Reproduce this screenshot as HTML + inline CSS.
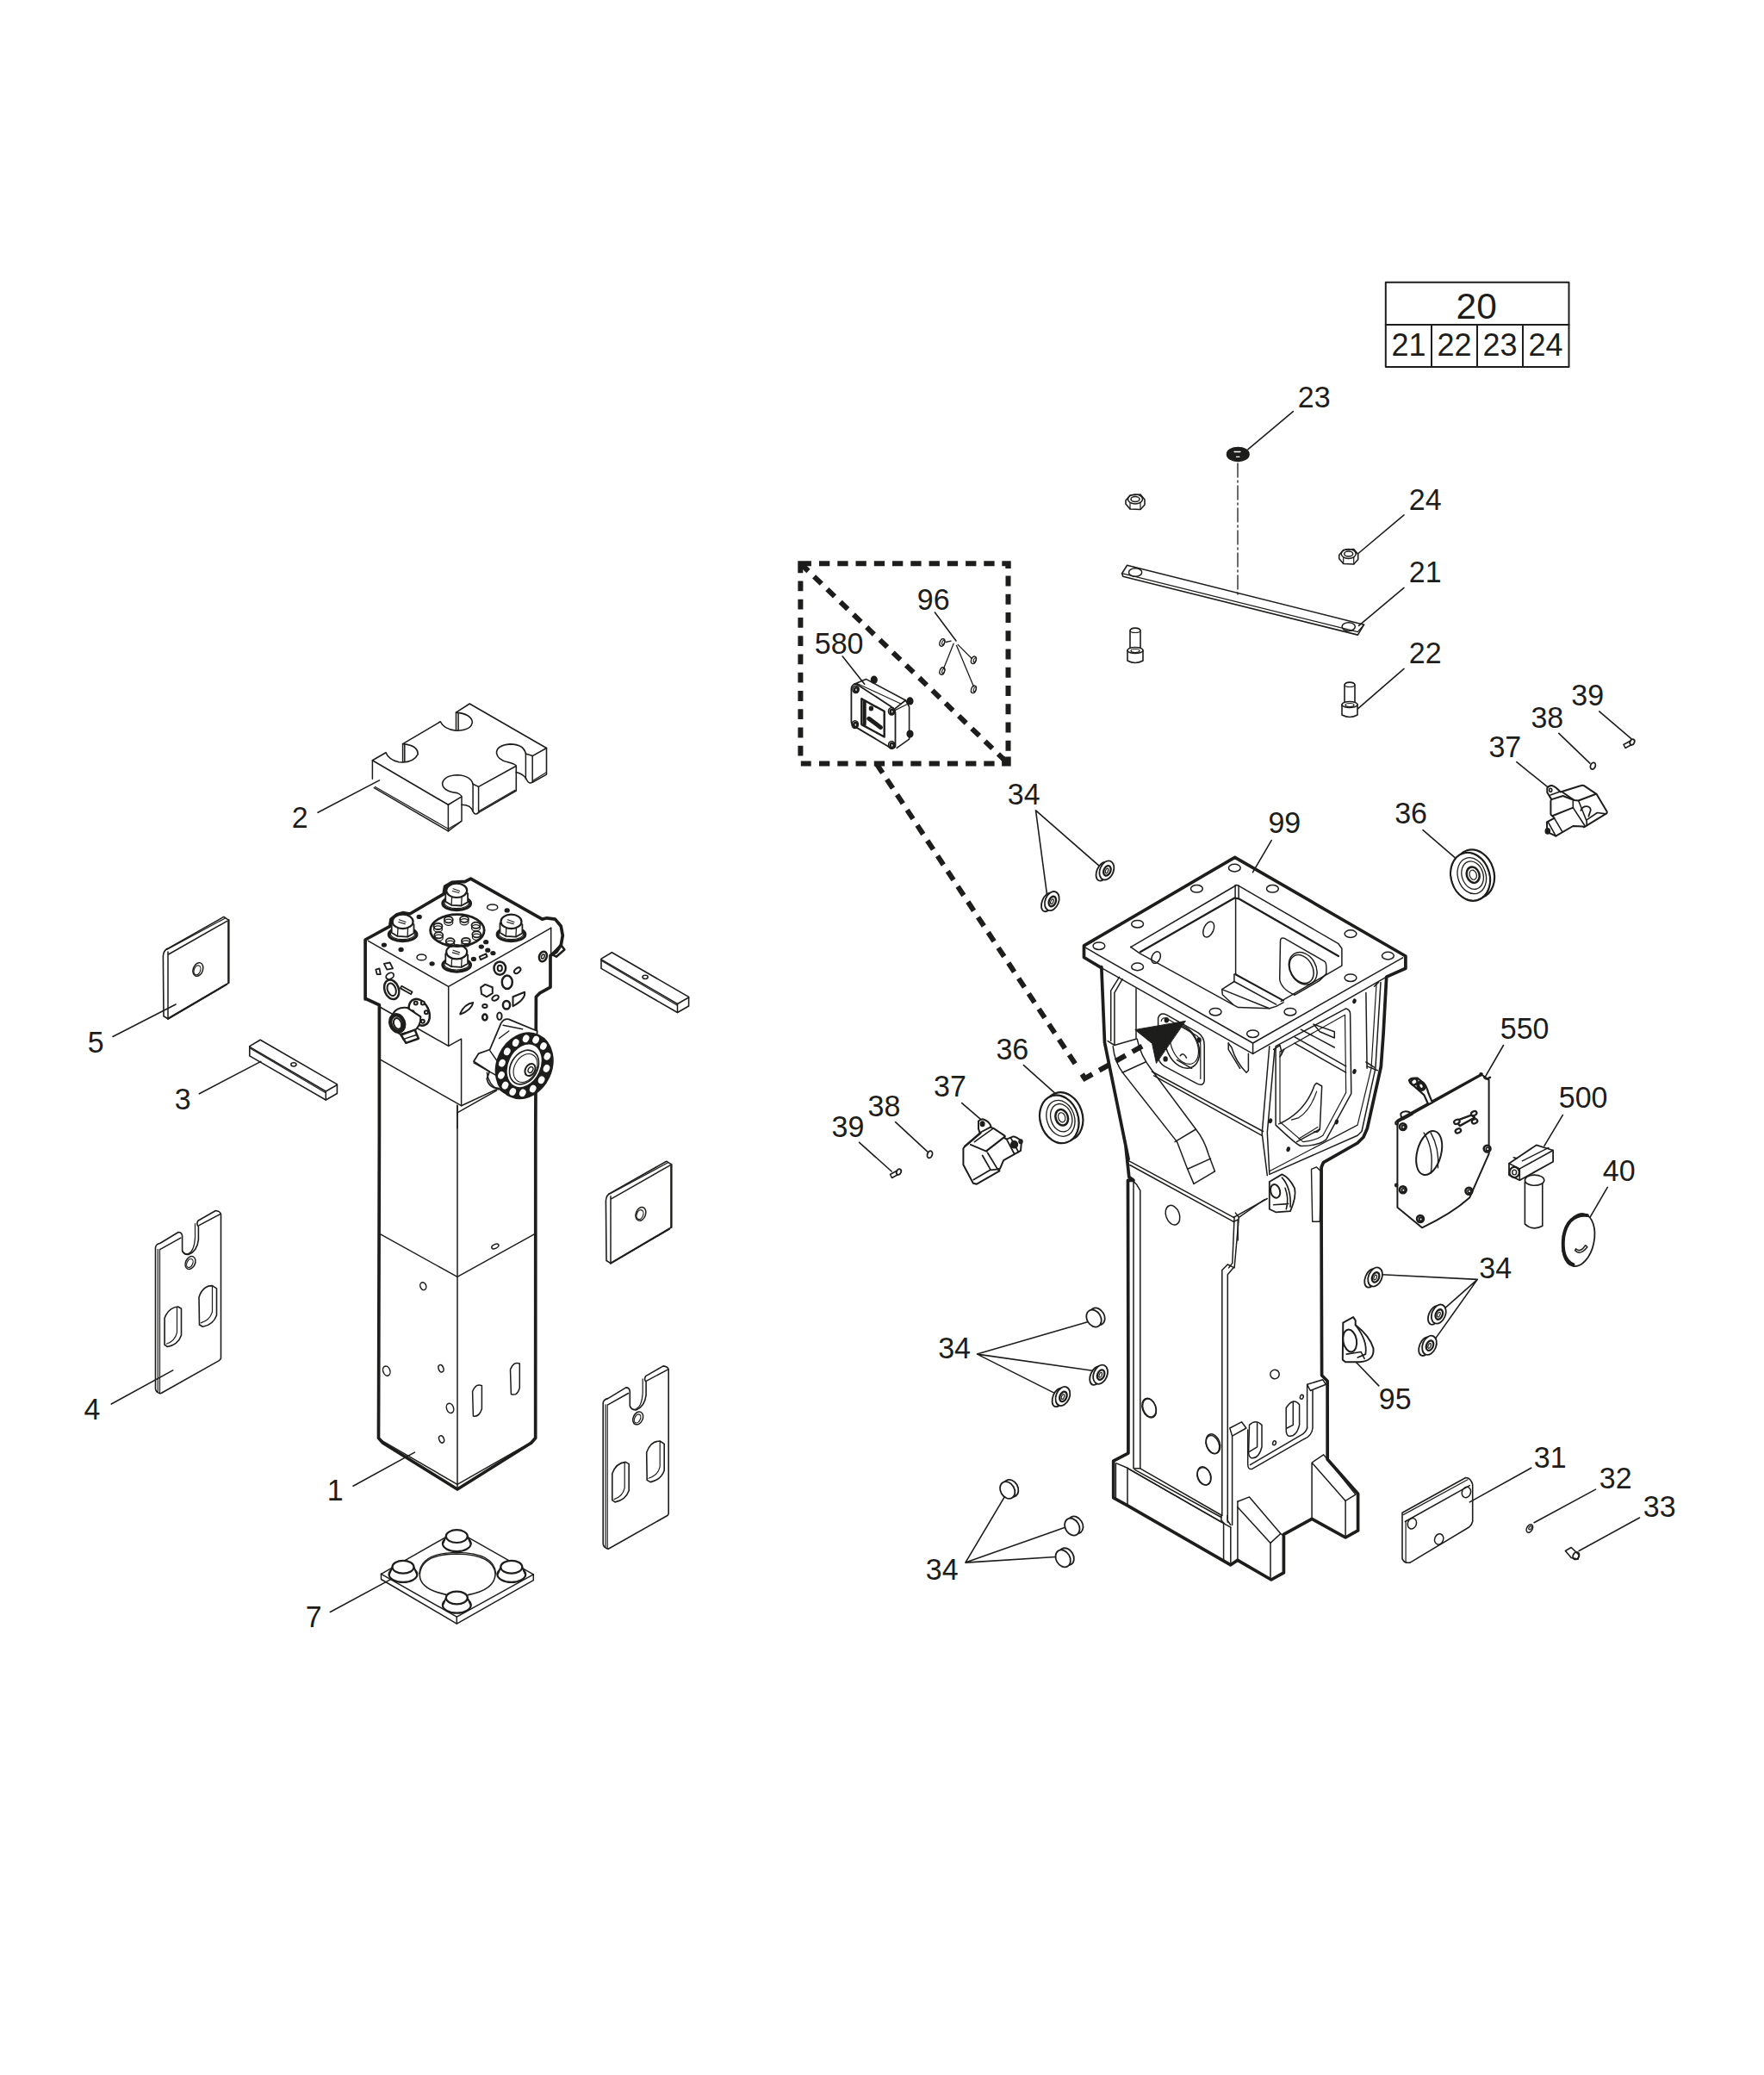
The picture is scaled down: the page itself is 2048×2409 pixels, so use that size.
<!DOCTYPE html>
<html><head><meta charset="utf-8">
<style>
html,body{margin:0;padding:0;background:#fff;width:2048px;height:2409px;overflow:hidden;}
svg{display:block;}
text{font-family:"Liberation Sans",sans-serif;fill:#1d1d1b;}
</style></head><body>
<svg width="2048" height="2409" viewBox="0 0 2048 2409">
<rect x="0" y="0" width="2048" height="2409" fill="#fff"/>
<!-- p_labels.py -->
<g fill="none" stroke="#1d1d1b" stroke-linejoin="round" stroke-linecap="round">
<rect x="1608.8" y="327.7" width="212.7" height="98.3" stroke-width="2"/>
<path d="M1608.8 377H1821.5M1662 377V426M1715 377V426M1768 377V426" stroke-width="2"/>
<g stroke="none"><text x="1690.5" y="370" font-size="42.5">20</text>
<g font-size="36"><text x="1615.5" y="412.5">21</text><text x="1668.5" y="412.5">22</text><text x="1721.5" y="412.5">23</text><text x="1774.5" y="412.5">24</text></g>
<g font-size="34"><text transform="translate(1506.8 472.5) scale(1 1.04)">23</text><text transform="translate(1635.8 591.5) scale(1 1.04)">24</text><text transform="translate(1635.8 676.0) scale(1 1.04)">21</text><text transform="translate(1635.8 770.0) scale(1 1.04)">22</text><text transform="translate(1064.8 708.0) scale(1 1.04)">96</text><text transform="translate(945.8 758.5) scale(1 1.04)">580</text><text transform="translate(1824.3 818.5) scale(1 1.04)">39</text><text transform="translate(1777.4 845.0) scale(1 1.04)">38</text><text transform="translate(1728.4 878.5) scale(1 1.04)">37</text><text transform="translate(1619.2 956.0) scale(1 1.04)">36</text><text transform="translate(1169.8 934.0) scale(1 1.04)">34</text><text transform="translate(1472.4 966.8) scale(1 1.04)">99</text><text transform="translate(1156.4 1229.5) scale(1 1.04)">36</text><text transform="translate(1084.1 1273.0) scale(1 1.04)">37</text><text transform="translate(1007.6 1296.0) scale(1 1.04)">38</text><text transform="translate(965.5 1320.0) scale(1 1.04)">39</text><text transform="translate(1741.8 1205.5) scale(1 1.04)">550</text><text transform="translate(1809.8 1286.0) scale(1 1.04)">500</text><text transform="translate(1860.8 1371.0) scale(1 1.04)">40</text><text transform="translate(1717.3 1483.8) scale(1 1.04)">34</text><text transform="translate(1600.8 1636.0) scale(1 1.04)">95</text><text transform="translate(1780.8 1704.0) scale(1 1.04)">31</text><text transform="translate(1856.8 1727.5) scale(1 1.04)">32</text><text transform="translate(1907.8 1760.5) scale(1 1.04)">33</text><text transform="translate(1089.2 1577.0) scale(1 1.04)">34</text><text transform="translate(1074.8 1833.5) scale(1 1.04)">34</text><text transform="translate(338.8 961.0) scale(1 1.04)">2</text><text transform="translate(101.8 1221.5) scale(1 1.04)">5</text><text transform="translate(202.8 1287.5) scale(1 1.04)">3</text><text transform="translate(97.5 1648.0) scale(1 1.04)">4</text><text transform="translate(379.8 1741.5) scale(1 1.04)">1</text><text transform="translate(354.8 1888.5) scale(1 1.04)">7</text></g></g>
<path d="M1501.4 477.6L1449 521.7M1630 597.9L1576.4 643M1630 682.4L1577.6 726.4M1630 776.4L1576.4 822.9M1085.4 711L1110 744M978.2 762L1003.7 794.3M1856.7 825.9L1893.9 857.6M1809.8 851.4L1845.9 886.1M1760.8 884.7L1798 914.7M1652 963.7L1688.8 995.3M1275.5 1004.7L1202.5 940.8L1215.4 1037.6M1476.2 975.7L1454.5 1012.7M1188.4 1236.6L1224 1268.4M1116.7 1280.6L1139.3 1300.2M1039.6 1302.7L1076.6 1336.9M997.6 1326.3L1035.2 1360M1745.5 1213.5L1724.5 1249.8M1814.3 1294.7L1792.9 1330.4M1866.3 1378.4L1844.9 1415.1M1604.2 1479.7L1715.3 1485.4L1676.8 1519.4M1715.3 1485.4L1665.4 1555.6M1600.8 1608.9L1574.7 1581.7M1777.7 1704.2L1706.3 1743.9M1852.5 1729.1L1781.1 1767.7M1903.5 1762L1833.2 1800.5M1264.4 1534.2L1134.5 1572.1L1268.4 1591.3M1134.5 1572.1L1224.9 1617.6M1169.8 1731.9L1120.9 1814.1L1241.3 1771.6M1120.9 1814.1L1233.5 1807M369.1 943.3L440.5 905.9M131 1203.5L204.1 1166M231.4 1269.8L302.8 1232.4M129.3 1630L200.7 1590.9M410 1725.2L481.4 1686.1M383.4 1871.5L455.9 1832.4" stroke-width="1.6"/>
</g>
<!-- p_dash.py -->
<g fill="none" stroke="#1d1d1b" stroke-linejoin="round" stroke-linecap="round">
<path d="M951 654.3 L963.3 654.3M972.3 654.3 L984.6 654.3M993.5 654.3 L1005.8 654.3M1014.8 654.3 L1027.1 654.3M1036 654.3 L1048.3 654.3M1057.3 654.3 L1069.6 654.3M1078.6 654.3 L1090.9 654.3M1099.8 654.3 L1112.1 654.3M1121.1 654.3 L1133.4 654.3M1142.3 654.3 L1154.6 654.3" stroke-width="6" stroke-linecap="butt"/>
<path d="M951 886.5 L963.3 886.5M972.3 886.5 L984.6 886.5M993.5 886.5 L1005.8 886.5M1014.8 886.5 L1027.1 886.5M1036 886.5 L1048.3 886.5M1057.3 886.5 L1069.6 886.5M1078.6 886.5 L1090.9 886.5M1099.8 886.5 L1112.1 886.5M1121.1 886.5 L1133.4 886.5M1142.3 886.5 L1154.6 886.5" stroke-width="6" stroke-linecap="butt"/>
<path d="M929.8 886.5 L941.7 886.5" stroke-width="6" stroke-linecap="butt"/>
<path d="M929.4 674.4 L929.4 686.3M929.4 695.7 L929.4 707.6M929.4 716.9 L929.4 728.8M929.4 738.2 L929.4 750.1M929.4 759.4 L929.4 771.3M929.4 780.7 L929.4 792.6M929.4 802 L929.4 813.9M929.4 823.2 L929.4 835.1M929.4 844.5 L929.4 856.4M929.4 865.7 L929.4 877.6" stroke-width="6" stroke-linecap="butt"/>
<path d="M1170.5 668.5 L1170.5 680.4M1170.5 689.8 L1170.5 701.7M1170.5 711 L1170.5 722.9M1170.5 732.3 L1170.5 744.2M1170.5 753.5 L1170.5 765.4M1170.5 774.8 L1170.5 786.7M1170.5 796.1 L1170.5 808M1170.5 817.3 L1170.5 829.2M1170.5 838.6 L1170.5 850.5M1170.5 859.8 L1170.5 871.7" stroke-width="6" stroke-linecap="butt"/>
<path d="M926.3 651.3H941.9V657.3H932.3V665.2H926.3Z" fill="#1d1d1b" stroke="none"/>
<path d="M1163.3 651.3H1173.7V660H1167.3V657.3H1163.3Z" fill="#1d1d1b" stroke="none"/>
<path d="M1163.1 883.5H1167.3V878.5H1173.7V889.6H1163.1Z" fill="#1d1d1b" stroke="none"/>
<path d="M945.1 669.4 L953.8 677.7M960.4 684.1 L969 692.4M975.7 698.8 L984.3 707.1M990.9 713.5 L999.6 721.8M1006.2 728.2 L1014.8 736.5M1021.5 742.9 L1030.1 751.2M1036.7 757.6 L1045.4 765.9M1052 772.3 L1060.6 780.6M1067.3 787 L1075.9 795.4M1082.5 801.7 L1091.2 810.1M1097.8 816.4 L1106.4 824.8M1113.1 831.2 L1121.7 839.5M1128.3 845.9 L1137 854.2M1143.6 860.6 L1152.2 868.9M1158.9 875.3 L1167.5 883.6" stroke-width="6" stroke-linecap="butt"/>
<path d="M929.5 654.3 L938.5 663" stroke-width="6.2" stroke-linecap="butt"/>
<path d="M1164 880.3 L1170.5 886.5" stroke-width="6.2" stroke-linecap="butt"/>
<path d="M1017.9 887.2 L1024.7 897.4M1029.7 904.9 L1036.5 915.2M1041.5 922.7 L1048.3 932.9M1053.2 940.4 L1060 950.7M1065 958.2 L1071.8 968.5M1076.7 976 L1083.5 986.2M1088.5 993.7 L1095.3 1004M1100.3 1011.5 L1107 1021.7M1112 1029.2 L1118.8 1039.5M1123.8 1047 L1130.6 1057.3M1135.5 1064.8 L1142.3 1075M1147.3 1082.5 L1154.1 1092.8M1159 1100.3 L1165.8 1110.5M1170.8 1118 L1177.6 1128.3M1182.6 1135.8 L1189.4 1146.1M1194.3 1153.6 L1201.1 1163.8M1206.1 1171.3 L1212.9 1181.6M1217.8 1189.1 L1224.6 1199.3M1229.6 1206.8 L1236.4 1217.1M1241.4 1224.6 L1248.2 1234.9" stroke-width="6" stroke-linecap="butt"/>
<path d="M1256.2 1247 L1259.5 1252" stroke-width="6" stroke-linecap="butt"/>
<path d="M1256.9 1253.5 L1268.2 1247.1M1276.2 1242.6 L1287.5 1236.3M1295.4 1231.8 L1306.8 1225.4M1314.7 1221 L1326 1214.6" stroke-width="6" stroke-linecap="butt"/>
<path d="M1376.1 1185.4L1317.8 1195.5L1337.6 1211.4L1342.4 1234.1Z" fill="#1d1d1b" stroke="#1d1d1b" stroke-width="1"/>
</g>
<!-- p_frame.py -->
<g fill="none" stroke="#1d1d1b" stroke-linejoin="round" stroke-linecap="round">
<path d="M1258.5 1111.5 L1258.5 1097.9 L1433.7 995.3 L1631.9 1110 L1631.9 1124.3 L1609.7 1134.1 L1606.1 1200 L1603.3 1238.5 L1587.4 1310 L1582.9 1320.2 L1576.1 1327 L1536.4 1349.7 L1534.1 1355.3 L1534.1 1420 L1534.6 1596.8 L1541.1 1603.3 L1541.2 1694.3 L1576.6 1734.2 L1576.6 1776.9 L1562.1 1785 L1523.1 1763.3 L1490.4 1781.4 L1490.4 1825.9 L1475.9 1834 L1436.9 1811.3 L1428.8 1816.8 L1420.6 1812.2 L1309 1747.8 L1292.7 1738.8 L1292.7 1696.1 L1309.9 1687.1 L1309.9 1600 L1309.5 1370.3 L1316 1370.3 L1310.8 1366.4 L1306.9 1330 L1310.1 1345.6 L1282.5 1210.3 L1278.8 1122.5 L1278.3 1123.4Z" stroke-width="3.7" fill="none"/>
<path d="M1260.2 1100.2 L1454.6 1211 L1628.6 1111.9" stroke-width="1.5" fill="none"/>
<path d="M1278.3 1123.4 L1454.6 1223.4 L1609.7 1134.1" stroke-width="1.5" fill="none"/>
<path d="M1454.6 1211 L1454.6 1223.4" stroke-width="1.5" fill="none"/>
<path d="M1312.7 1099.7 L1435.7 1027.5 L1438.1 1028.3 L1554 1095.7 L1557.9 1101.3 L1557.9 1121.1 L1487.3 1162.4" stroke-width="1.5" fill="none"/>
<path d="M1434.1 1027.5 L1434.1 1042.5" stroke-width="1.5" fill="none"/>
<path d="M1438.1 1028.3 L1438.1 1042.5" stroke-width="1.5" fill="none"/>
<path d="M1312.7 1099.3 L1322.9 1106.6 L1437.4 1169.6 L1473.7 1170.7 L1481.6 1168.4 L1490 1163.9" stroke-width="1.5" fill="none"/>
<path d="M1323.8 1105.2 L1433.3 1042.5 L1438.1 1043.3 L1554 1110" stroke-width="2.2" fill="none"/>
<path d="M1434.6 1043.3 L1434.6 1130.6" stroke-width="1.5" fill="none"/>
<path d="M1432.9 1131 L1432.9 1139.5 L1418.7 1148.6 L1419.3 1154.8 L1431.7 1166.2" stroke-width="1.5" fill="none"/>
<path d="M1418.7 1148.6 L1473.7 1170.7" stroke-width="1.5" fill="none"/>
<path d="M1432.9 1139.5 L1481.6 1166.2" stroke-width="1.5" fill="none"/>
<path d="M1434 1131 L1490 1161.6" stroke-width="2" fill="none"/>
<ellipse cx="1403.2" cy="1079" rx="5.6" ry="9.5" stroke-width="1.5" fill="none" transform="rotate(25 1403.2 1079)"/>
<ellipse cx="1342.1" cy="1111.6" rx="4.8" ry="7.1" stroke-width="1.5" fill="none" transform="rotate(25 1342.1 1111.6)"/>
<path d="M 1486.5 1092.5 Q 1486.5 1087.8 1491.3 1089.4 L 1538.1 1116.3 Q 1540.5 1117.9 1539.7 1130.6 L 1531.7 1138.6 L 1503.2 1155.2 Q 1487.3 1148.1 1485.7 1137 Z" stroke-width="1.5" fill="none"/>
<ellipse cx="1512.7" cy="1124.3" rx="15.1" ry="19.8" stroke-width="1.5" fill="none" transform="rotate(-30 1512.7 1124.3)"/>
<ellipse cx="1511.1" cy="1125.1" rx="12.7" ry="17.5" stroke-width="1.5" fill="none" transform="rotate(-30 1511.1 1125.1)"/>
<ellipse cx="1433.3" cy="1007.6" rx="6.9" ry="4.3" stroke-width="1.5" fill="none"/>
<ellipse cx="1389.4" cy="1031.8" rx="6.9" ry="4.3" stroke-width="1.5" fill="none"/>
<ellipse cx="1477.4" cy="1031.8" rx="6.9" ry="4.3" stroke-width="1.5" fill="none"/>
<ellipse cx="1320.6" cy="1072.7" rx="6.9" ry="4.3" stroke-width="1.5" fill="none"/>
<ellipse cx="1568" cy="1084.1" rx="6.9" ry="4.3" stroke-width="1.5" fill="none"/>
<ellipse cx="1275.9" cy="1098.2" rx="6.9" ry="4.3" stroke-width="1.5" fill="none"/>
<ellipse cx="1611.4" cy="1109.6" rx="6.9" ry="4.3" stroke-width="1.5" fill="none"/>
<ellipse cx="1320.6" cy="1122.4" rx="6.9" ry="4.3" stroke-width="1.5" fill="none"/>
<ellipse cx="1568" cy="1135.2" rx="6.9" ry="4.3" stroke-width="1.5" fill="none"/>
<ellipse cx="1411.1" cy="1174.7" rx="6.9" ry="4.3" stroke-width="1.5" fill="none"/>
<ellipse cx="1497.9" cy="1174.7" rx="6.9" ry="4.3" stroke-width="1.5" fill="none"/>
<ellipse cx="1454.5" cy="1200.2" rx="6.9" ry="4.3" stroke-width="1.5" fill="none"/>
<path d="M1319 1147.7 L1319 1206.2" stroke-width="1.5" fill="none"/>
<path d="M 1289.7 1208.6 L 1289.7 1150.1 L 1299.5 1134.3" stroke-width="1.5" fill="none"/>
<path d="M 1293.9 1213.5 L 1293.9 1152.6 L 1303.1 1136.7" stroke-width="1.5" fill="none"/>
<path d="M1286.1 1208.6 L1293.9 1213.5 L1319 1206.2" stroke-width="1.5" fill="none"/>
<path d="M 1292.2 1214.7 Q 1293.9 1233 1304.3 1246.4 L 1366.5 1325.6 L 1378.7 1357.3 L 1386 1374.4" stroke-width="1.5" fill="none"/>
<path d="M 1320.2 1206.2 Q 1323.8 1225.7 1338.5 1244 L 1388.4 1311 Q 1398.2 1323.2 1403.1 1340.3 L 1410.4 1359.8" stroke-width="1.5" fill="none"/>
<path d="M1303.1 1245.2 L1329.9 1233" stroke-width="1.5" fill="none"/>
<path d="M1364.1 1325.6 L1388.4 1311" stroke-width="1.5" fill="none"/>
<path d="M1378.7 1357.3 L1405.5 1345.1" stroke-width="1.5" fill="none"/>
<path d="M1386 1374.4 L1410.4 1359.8" stroke-width="1.5" fill="none"/>
<path d="M1337.3 1244 L1466.5 1313.5" stroke-width="1.5" fill="none"/>
<path d="M1339.7 1248.9 L1465.2 1318.3" stroke-width="1.5" fill="none"/>
<path d="M1310.4 1347.6 L1432.3 1413.4" stroke-width="1.5" fill="none"/>
<path d="M1311.7 1352.5 L1432.3 1418.3" stroke-width="1.5" fill="none"/>
<path d="M1432.3 1413.4 L1471.3 1391.5" stroke-width="1.5" fill="none"/>
<path d="M1432.3 1418.3 L1437.2 1415.8 L1437.2 1440" stroke-width="1.5" fill="none"/>
<path d="M 1344.6 1181.8 Q 1347 1174.5 1354.3 1178.2 L 1390.9 1198.9 Q 1398.2 1203.8 1398.2 1213.5 L 1398.2 1255 Q 1397 1262.3 1388.4 1257.4 L 1351.9 1237.9 Q 1344.6 1233 1344.6 1225.7 Z" stroke-width="1.5" fill="none"/>
<path d="M 1348.2 1185.5 Q 1349.4 1180.6 1354.3 1182.3 L 1389.7 1202.5 Q 1393.8 1206.2 1393.8 1213.5 L 1393.8 1252.5" stroke-width="1.2" fill="none"/>
<ellipse cx="1372.6" cy="1214.7" rx="18.3" ry="26.8" stroke-width="1.5" fill="none" transform="rotate(-25 1372.6 1214.7)"/>
<ellipse cx="1375" cy="1213.5" rx="14.6" ry="23.2" stroke-width="1.2" fill="none" transform="rotate(-25 1375 1213.5)"/>
<path d="M 1366.5 1230.6 L 1383.6 1240.3 M 1370.2 1225.7 Q 1373.8 1220.8 1377.5 1228.1" stroke-width="1.5" fill="none"/>
<ellipse cx="1354.3" cy="1184.3" rx="1.7" ry="2.2" stroke-width="2" fill="#1d1d1b"/>
<ellipse cx="1392.1" cy="1207.4" rx="1.7" ry="2.2" stroke-width="2" fill="#1d1d1b"/>
<ellipse cx="1353.1" cy="1229.4" rx="1.7" ry="2.2" stroke-width="2" fill="#1d1d1b"/>
<path d="M 1426.2 1211.1 L 1429.9 1216 Q 1434.8 1233 1447 1245.2 L 1449.4 1242.8 L 1449.4 1223.3" stroke-width="1.5" fill="none"/>
<path d="M1426.2 1211.1 L1426.2 1218.4 L1439.6 1240.3" stroke-width="1.5" fill="none"/>
<path d="M1473.8 1214.7 L1465.2 1315.9 L1471.3 1364.6" stroke-width="1.5" fill="none"/>
<path d="M1479.9 1218.4 L1471.3 1314.7 L1473.8 1362.2" stroke-width="1.5" fill="none"/>
<path d="M 1481.1 1214.7 L 1562.7 1170.9 Q 1567.6 1172.1 1567.6 1177 L 1568.8 1269.6 L 1539.6 1323.2 Q 1529.8 1330.5 1510.3 1330.5 Q 1505.5 1329.3 1481.1 1306.1 L 1481.1 1218.4 Z" stroke-width="1.5" fill="none"/>
<path d="M 1486 1220.8 L 1561.5 1178.2 L 1562.7 1268.4 L 1535.9 1318.3 Q 1527.4 1324.4 1512.8 1325.6 L 1486 1302.5 Z" stroke-width="1.2" fill="none"/>
<path d="M1503 1203.8 L1562.7 1237.9" stroke-width="1.5" fill="none"/>
<path d="M1503 1211.1 L1562.7 1245.2" stroke-width="1.5" fill="none"/>
<path d="M1510.3 1195.2 L1549.3 1216" stroke-width="1.5" fill="none"/>
<path d="M 1525 1189.1 L 1549.3 1197.7 L 1549.3 1205 L 1532.3 1197.7 Z" stroke-width="1.5" fill="none"/>
<path d="M 1484.7 1304.9 Q 1515.2 1291.5 1526.2 1259.8 L 1528.6 1257.4 L 1534.7 1261 L 1532.3 1311 Q 1529.8 1315.9 1526.2 1313.5" stroke-width="1.5" fill="none"/>
<path d="M 1499.4 1300.1 L 1507.9 1297.6 Q 1521.3 1289.1 1528.6 1267.1" stroke-width="1.2" fill="none"/>
<path d="M1505.5 1325.6 L1532.3 1311" stroke-width="1.5" fill="none"/>
<path d="M1507.9 1322 L1529.8 1308.6" stroke-width="1.2" fill="none"/>
<path d="M1585.9 1152.6 L1587.1 1240.3" stroke-width="1.5" fill="none"/>
<path d="M1595.6 1145.3 L1600.5 1140.4" stroke-width="1.5" fill="none"/>
<path d="M 1603 1140.4 L 1596.9 1240.3 L 1581 1313.5 L 1576.1 1318.3 L 1473.8 1363.4" stroke-width="1.5" fill="none"/>
<path d="M 1598.1 1141.6 L 1592 1240.3 L 1576.1 1306.1 L 1473.8 1359.8" stroke-width="1.2" fill="none"/>
<path d="M1587.1 1237.9 L1599.3 1242.8" stroke-width="1.5" fill="none"/>
<path d="M1585.9 1233 L1595.6 1239.1" stroke-width="1.5" fill="none"/>
<path d="M1478.6 1218.4 L1486 1213.5 L1488.4 1223.3 L1486 1226.9 L1490.8 1218.4" stroke-width="1.5" fill="none"/>
<ellipse cx="1572.5" cy="1162.3" rx="1.2" ry="2" stroke-width="2" fill="#1d1d1b" transform="rotate(15 1572.5 1162.3)"/>
<ellipse cx="1572.5" cy="1244" rx="1.2" ry="2" stroke-width="2" fill="#1d1d1b" transform="rotate(15 1572.5 1244)"/>
<ellipse cx="1475" cy="1301.3" rx="1.2" ry="2" stroke-width="2" fill="#1d1d1b" transform="rotate(15 1475 1301.3)"/>
<ellipse cx="1551.8" cy="1302.5" rx="1.2" ry="2" stroke-width="2" fill="#1d1d1b" transform="rotate(15 1551.8 1302.5)"/>
<ellipse cx="1495.7" cy="1334.2" rx="1.2" ry="2" stroke-width="2" fill="#1d1d1b" transform="rotate(15 1495.7 1334.2)"/>
<path d="M 1522.5 1357.3 L 1528.6 1354.9 L 1533.5 1359.8 L 1532.3 1418.3 L 1523.7 1418.3 Z" stroke-width="1.4" fill="none"/>
<path d="M 1473.8 1372 L 1473.8 1403.7 L 1481.1 1407.3 L 1498.1 1406.1 Q 1505.5 1389 1503 1379.3 Q 1496.9 1367.1 1488.4 1363.4 Z" stroke-width="1.8" fill="none"/>
<ellipse cx="1480.6" cy="1382.9" rx="5.4" ry="8" stroke-width="2" fill="none" transform="rotate(-15 1480.6 1382.9)"/>
<path d="M 1488.4 1367.1 Q 1499.4 1379.3 1498.1 1401.2 M 1492 1379.3 Q 1496.9 1391.5 1493.3 1403.7 M 1478.6 1398.8 L 1495.7 1397.6" stroke-width="1.6" fill="none"/>
<path d="M1316 1371.6 L1319.9 1375.6 L1323.8 1382.1 L1323.8 1704.8 L1316 1704.8 L1316 1371.6" stroke-width="1.5" fill="none"/>
<path d="M1309.5 1704.8 L1418.8 1767.3" stroke-width="1.5" fill="none"/>
<path d="M1323.8 1704.8 L1418.8 1759.5" stroke-width="1.5" fill="none"/>
<path d="M1418.8 1759.5 L1418.8 1474.5 L1425.3 1468 L1433.1 1471.9 L1438.3 1413.3 L1434.4 1408.1" stroke-width="1.5" fill="none"/>
<path d="M1425.3 1767.3 L1425.3 1479.7 L1431.8 1471.9" stroke-width="1.5" fill="none"/>
<path d="M1433.1 1412.5 L1430.8 1466.4 L1426.6 1471.9" stroke-width="1.5" fill="none"/>
<path d="M1438.3 1413.3 L1468.2 1392.5" stroke-width="1.5" fill="none"/>
<ellipse cx="1361.5" cy="1410.7" rx="7.8" ry="11.7" stroke-width="1.5" fill="none" transform="rotate(-20 1361.5 1410.7)"/>
<ellipse cx="1334.2" cy="1634.6" rx="7.8" ry="11.7" stroke-width="1.5" fill="none" transform="rotate(-20 1334.2 1634.6)"/>
<ellipse cx="1408.4" cy="1676.2" rx="7.8" ry="11.7" stroke-width="1.5" fill="none" transform="rotate(-20 1408.4 1676.2)"/>
<ellipse cx="1398" cy="1713.9" rx="7.8" ry="10.4" stroke-width="1.5" fill="none" transform="rotate(-20 1398 1713.9)"/>
<ellipse cx="1480" cy="1595.5" rx="5.2" ry="5.2" stroke-width="1.5" fill="none" transform="rotate(-20 1480 1595.5)"/>
<path d="M1296.3 1698.9 L1309 1704.3 L1420.6 1768.7 L1428.8 1773.2" stroke-width="1.5" fill="none"/>
<path d="M1317.2 1706.1 L1417.9 1761.5" stroke-width="1.5" fill="none"/>
<path d="M1295.4 1698.9 L1295.4 1739.7" stroke-width="1.5" fill="none"/>
<path d="M1309 1704.3 L1309 1747.8" stroke-width="1.5" fill="none"/>
<path d="M1417.9 1759.6 L1417.9 1765.1 L1421.5 1768.7" stroke-width="1.5" fill="none"/>
<path d="M1425.1 1759.6 L1425.1 1765.1 L1428.8 1770.5" stroke-width="1.5" fill="none"/>
<path d="M1420.6 1768.7 L1420.6 1812.2" stroke-width="1.5" fill="none"/>
<path d="M1428.8 1773.2 L1428.8 1814.1" stroke-width="1.5" fill="none"/>
<path d="M1436.9 1743.3 L1450.5 1737.9 L1486.8 1780.5 L1475 1791.4 L1436.9 1749.7" stroke-width="1.5" fill="none"/>
<path d="M1475 1791.4 L1475 1834" stroke-width="1.5" fill="none"/>
<path d="M1436.9 1743.3 L1436.9 1811.3" stroke-width="1.5" fill="none"/>
<path d="M1486.8 1780.5 L1490.4 1783.2" stroke-width="1.5" fill="none"/>
<path d="M1523.1 1698 L1536.7 1688.9 L1573.9 1735.1 L1562.1 1742.4 L1523.1 1698 L1523.1 1763.3" stroke-width="1.5" fill="none"/>
<path d="M1562.1 1742.4 L1562.1 1785" stroke-width="1.5" fill="none"/>
<path d="M1427.8 1658 L1441.5 1650.8 L1446.9 1658 L1430.6 1667.1 L1427.8 1658" stroke-width="1.5" fill="none"/>
<path d="M1430.6 1667.1 L1430.6 1770.5" stroke-width="1.5" fill="none"/>
<path d="M1517.6 1607.3 L1535.8 1601.8 L1539.4 1607.3 L1521.3 1614.5 L1517.6 1607.3 L1517.6 1658" stroke-width="1.5" fill="none"/>
<path d="M 1524 1614.5 L 1524 1658 Q 1523.1 1667.1 1514 1670.7 L 1454.1 1705.2 Q 1448.7 1707 1448.7 1699.8 L 1448.7 1659.9" stroke-width="1.5" fill="none"/>
<path d="M 1517.6 1658 Q 1515.8 1663.5 1510.4 1666.2 L 1451.4 1700.7" stroke-width="1.5" fill="none"/>
<path d="M 1450.5 1654.4 Q 1457.8 1647.2 1465 1654.4 L 1465 1679.8 Q 1461.4 1694.3 1452.3 1692.5 Q 1449.6 1690.7 1449.6 1685.3 Z" stroke-width="1.5" fill="none"/>
<path d="M 1493.2 1634.5 Q 1501.3 1621.8 1508.6 1630.8 L 1508.6 1654.4 Q 1504.9 1668.9 1495.9 1667.1 Q 1493.2 1665.3 1493.2 1659.9 Z" stroke-width="1.5" fill="none"/>
<path d="M1459.6 1652.6 L1459.6 1679.8 L1450.5 1685.3" stroke-width="1.5" fill="none"/>
<path d="M1501.3 1627.2 L1501.3 1654.4 L1494.1 1658" stroke-width="1.5" fill="none"/>
<ellipse cx="1334.4" cy="1634.5" rx="7.3" ry="10.9" stroke-width="1.5" fill="none" transform="rotate(-20 1334.4 1634.5)"/>
<ellipse cx="1407.9" cy="1677.1" rx="7.3" ry="10.9" stroke-width="1.5" fill="none" transform="rotate(-20 1407.9 1677.1)"/>
<ellipse cx="1397.9" cy="1713.4" rx="7.3" ry="10.9" stroke-width="1.5" fill="none" transform="rotate(-20 1397.9 1713.4)"/>
<ellipse cx="1479.5" cy="1675.3" rx="1.8" ry="2.5" stroke-width="1.5" fill="none" transform="rotate(20 1479.5 1675.3)"/>
<ellipse cx="1511.3" cy="1621.8" rx="1.8" ry="2.5" stroke-width="1.5" fill="none" transform="rotate(20 1511.3 1621.8)"/>
</g>
<!-- p_column.py -->
<g fill="none" stroke="#1d1d1b" stroke-linejoin="round" stroke-linecap="round">
<path d="M424.1 1159.9 L424.1 1091 L452.7 1075.3 L454 1067.1 L460.8 1061.7 L467.6 1059.7 L475.8 1061 L515.2 1037.9 L516.6 1029 L524.8 1024.3 L535.6 1023.6 L539.7 1023.6 L546.5 1020.2 L629.5 1067.1 L635 1065.8 L644.5 1067.1 L651.3 1075.3 L653.3 1086.2 L651.3 1097.1 L645.9 1105.2 L639 1109.3 L639 1146.1 L626.8 1152.9 L622.4 1157.2 L621.8 1310 L621.7 1669.5 L616.6 1675.2 L531 1729 L444.6 1675.2 L439.5 1669.5 L440.4 1310 L440.4 1166.7 L424.1 1159.3 L424.1 1147.7Z" stroke-width="3.7" fill="none"/>
<path d="M427.5 1092.3 L520.7 1145.4 L639.7 1077.3" stroke-width="1.5" fill="none"/>
<path d="M639.7 1077.3 L639.7 1109.3" stroke-width="1.5" fill="none"/>
<path d="M520.7 1146.3 L520.7 1214.4 L535.6 1206.2 L535.6 1283.7" stroke-width="1.5" fill="none"/>
<path d="M441.8 1169.5 L520.7 1214.4" stroke-width="1.5" fill="none"/>
<path d="M442.4 1230.7 L535.6 1283.7 L576.5 1264.7" stroke-width="1.5" fill="none"/>
<path d="M530.9 1283.1 L530.9 1310" stroke-width="1.5" fill="none"/>
<path d="M530.9 1291.9 L576.5 1266.1" stroke-width="1.5" fill="none"/>
<path d="M531 1284 L531 1729" stroke-width="1.5" fill="none"/>
<path d="M441.7 1432.8 L531 1482.4 L620.3 1432.8" stroke-width="1.5" fill="none"/>
<path d="M443.1 1672.3 L531 1723.4 L620.3 1672.3" stroke-width="1.5" fill="none"/>
<ellipse cx="491.3" cy="1493.2" rx="3.4" ry="4.5" stroke-width="1.5" fill="none" transform="rotate(-20 491.3 1493.2)"/>
<ellipse cx="448.8" cy="1591.6" rx="4" ry="5.7" stroke-width="1.5" fill="none" transform="rotate(-20 448.8 1591.6)"/>
<ellipse cx="512" cy="1588.7" rx="2.8" ry="4.3" stroke-width="1.5" fill="none" transform="rotate(-20 512 1588.7)"/>
<ellipse cx="522.5" cy="1634.9" rx="4" ry="5.7" stroke-width="1.5" fill="none" transform="rotate(-20 522.5 1634.9)"/>
<ellipse cx="512.6" cy="1670.9" rx="2.8" ry="4.3" stroke-width="1.5" fill="none" transform="rotate(-20 512.6 1670.9)"/>
<path d="M 548.6 1615.6 Q 552.3 1605.7 559.4 1608.6 L 559.4 1635.5 Q 556.5 1645.4 549.4 1644 Z" stroke-width="1.5" fill="none"/>
<path d="M 592.5 1590.1 Q 596.2 1580.2 603.3 1583 L 603.3 1611.4 Q 600.5 1621.3 593.4 1618.5 Z" stroke-width="1.5" fill="none"/>
<ellipse cx="574.9" cy="1447" rx="4.3" ry="2.3" stroke-width="1.5" fill="none" transform="rotate(-25 574.9 1447)"/>
<ellipse cx="530.2" cy="1048.8" rx="16.3" ry="7.9" stroke-width="3.2" fill="none"/>
<ellipse cx="530.2" cy="1048.1" rx="14.3" ry="6.5" stroke-width="1.2" fill="none"/>
<path d="M517.3 1035.9 L524.8 1032.4 L536.3 1033.1 L543.1 1037.2 L543.1 1047.4 L535.6 1051.5 L524.1 1050.8 L517.3 1046.7Z" stroke-width="1.8" fill="#fff"/>
<path d="M524.8 1037.9 L524.1 1050.8" stroke-width="1.3" fill="none"/>
<path d="M536.3 1038.6 L535.6 1051.5" stroke-width="1.3" fill="none"/>
<ellipse cx="530.2" cy="1033.8" rx="12" ry="8.2" stroke-width="2.2" fill="#fff"/>
<path d="M526.1 1031.8 L533.6 1034.5" stroke-width="1.2" fill="none"/>
<path d="M525.4 1034.5 L532.9 1036.5" stroke-width="1.2" fill="none"/>
<ellipse cx="467.6" cy="1084.8" rx="16.3" ry="7.9" stroke-width="3.2" fill="none"/>
<ellipse cx="467.6" cy="1084.1" rx="14.3" ry="6.5" stroke-width="1.2" fill="none"/>
<path d="M454.7 1071.9 L462.2 1068.5 L473.7 1069.2 L480.5 1073.3 L480.5 1083.5 L473.1 1087.6 L461.5 1086.9 L454.7 1082.8Z" stroke-width="1.8" fill="#fff"/>
<path d="M462.2 1073.9 L461.5 1086.9" stroke-width="1.3" fill="none"/>
<path d="M473.7 1074.6 L473.1 1087.6" stroke-width="1.3" fill="none"/>
<ellipse cx="467.6" cy="1069.9" rx="12" ry="8.2" stroke-width="2.2" fill="#fff"/>
<path d="M463.5 1067.8 L471 1070.5" stroke-width="1.2" fill="none"/>
<path d="M462.9 1070.5 L470.3 1072.6" stroke-width="1.2" fill="none"/>
<ellipse cx="593.5" cy="1084.8" rx="16.3" ry="7.9" stroke-width="3.2" fill="none"/>
<ellipse cx="593.5" cy="1084.1" rx="14.3" ry="6.5" stroke-width="1.2" fill="none"/>
<path d="M580.5 1071.9 L588 1068.5 L599.6 1069.2 L606.4 1073.3 L606.4 1083.5 L598.9 1087.6 L587.3 1086.9 L580.5 1082.8Z" stroke-width="1.8" fill="#fff"/>
<path d="M588 1073.9 L587.3 1086.9" stroke-width="1.3" fill="none"/>
<path d="M599.6 1074.6 L598.9 1087.6" stroke-width="1.3" fill="none"/>
<ellipse cx="593.5" cy="1069.9" rx="12" ry="8.2" stroke-width="2.2" fill="#fff"/>
<path d="M589.4 1067.8 L596.9 1070.5" stroke-width="1.2" fill="none"/>
<path d="M588.7 1070.5 L596.2 1072.6" stroke-width="1.2" fill="none"/>
<ellipse cx="530.2" cy="1120.2" rx="16.3" ry="7.9" stroke-width="3.2" fill="none"/>
<ellipse cx="530.2" cy="1119.5" rx="14.3" ry="6.5" stroke-width="1.2" fill="none"/>
<path d="M517.3 1107.3 L524.8 1103.9 L536.3 1104.6 L543.1 1108.6 L543.1 1118.8 L535.6 1122.9 L524.1 1122.2 L517.3 1118.2Z" stroke-width="1.8" fill="#fff"/>
<path d="M524.8 1109.3 L524.1 1122.2" stroke-width="1.3" fill="none"/>
<path d="M536.3 1110 L535.6 1122.9" stroke-width="1.3" fill="none"/>
<ellipse cx="530.2" cy="1105.2" rx="12" ry="8.2" stroke-width="2.2" fill="#fff"/>
<path d="M526.1 1103.2 L533.6 1105.9" stroke-width="1.2" fill="none"/>
<path d="M525.4 1105.9 L532.9 1108" stroke-width="1.2" fill="none"/>
<ellipse cx="530.9" cy="1080.1" rx="31.3" ry="18.4" stroke-width="2.8" fill="none"/>
<ellipse cx="553.3" cy="1084.7" rx="5" ry="3.6" stroke-width="1.8" fill="#fff"/>
<ellipse cx="553.3" cy="1087.7" rx="5" ry="3.6" stroke-width="1.2" fill="none"/>
<ellipse cx="540.9" cy="1092.4" rx="5" ry="3.6" stroke-width="1.8" fill="#fff"/>
<ellipse cx="540.9" cy="1095.4" rx="5" ry="3.6" stroke-width="1.2" fill="none"/>
<ellipse cx="522.7" cy="1092.8" rx="5" ry="3.6" stroke-width="1.8" fill="#fff"/>
<ellipse cx="522.7" cy="1095.8" rx="5" ry="3.6" stroke-width="1.2" fill="none"/>
<ellipse cx="509.3" cy="1085.8" rx="5" ry="3.6" stroke-width="1.8" fill="#fff"/>
<ellipse cx="509.3" cy="1088.8" rx="5" ry="3.6" stroke-width="1.2" fill="none"/>
<ellipse cx="508.5" cy="1075.4" rx="5" ry="3.6" stroke-width="1.8" fill="#fff"/>
<ellipse cx="508.5" cy="1078.4" rx="5" ry="3.6" stroke-width="1.2" fill="none"/>
<ellipse cx="520.8" cy="1067.7" rx="5" ry="3.6" stroke-width="1.8" fill="#fff"/>
<ellipse cx="520.8" cy="1070.7" rx="5" ry="3.6" stroke-width="1.2" fill="none"/>
<ellipse cx="539" cy="1067.3" rx="5" ry="3.6" stroke-width="1.8" fill="#fff"/>
<ellipse cx="539" cy="1070.3" rx="5" ry="3.6" stroke-width="1.2" fill="none"/>
<ellipse cx="552.5" cy="1074.3" rx="5" ry="3.6" stroke-width="1.8" fill="#fff"/>
<ellipse cx="552.5" cy="1077.3" rx="5" ry="3.6" stroke-width="1.2" fill="none"/>
<ellipse cx="571.7" cy="1053.3" rx="6.1" ry="3.4" stroke-width="1.5" fill="none"/>
<ellipse cx="489.4" cy="1111.4" rx="5.4" ry="3.4" stroke-width="1.5" fill="none"/>
<ellipse cx="486.7" cy="1064.4" rx="1.9" ry="1.4" stroke-width="2.5" fill="#1d1d1b"/>
<ellipse cx="445.9" cy="1097.1" rx="1.9" ry="1.4" stroke-width="2.5" fill="#1d1d1b"/>
<ellipse cx="465.6" cy="1102.5" rx="1.9" ry="1.4" stroke-width="2.5" fill="#1d1d1b"/>
<ellipse cx="501.6" cy="1118.8" rx="1.9" ry="1.4" stroke-width="2.5" fill="#1d1d1b"/>
<ellipse cx="588.7" cy="1056.9" rx="1.9" ry="1.4" stroke-width="2.5" fill="#1d1d1b"/>
<ellipse cx="549.9" cy="1113.4" rx="1.9" ry="1.4" stroke-width="2.5" fill="#1d1d1b"/>
<ellipse cx="558.8" cy="1099.1" rx="1.9" ry="1.4" stroke-width="2.5" fill="#1d1d1b"/>
<ellipse cx="566.3" cy="1103.2" rx="1.9" ry="1.4" stroke-width="2.5" fill="#1d1d1b"/>
<ellipse cx="572.4" cy="1106.6" rx="1.9" ry="1.4" stroke-width="2.5" fill="#1d1d1b"/>
<ellipse cx="564.2" cy="1093.7" rx="1.9" ry="1.4" stroke-width="2.5" fill="#1d1d1b"/>
<path d="M 556.7 1110.7 L 564.2 1107.3 L 565.6 1110.7 L 558.1 1114.1 Z" stroke-width="2" fill="none"/>
<path d="M 640.4 1108 L 651.3 1097.1 L 655.4 1102.5 L 645.9 1110.7 Z" stroke-width="2.5" fill="none"/>
<ellipse cx="454.7" cy="1148.8" rx="8.2" ry="11.6" stroke-width="2.5" fill="none" transform="rotate(-20 454.7 1148.8)"/>
<ellipse cx="454.7" cy="1148.8" rx="4.8" ry="7.5" stroke-width="2" fill="none" transform="rotate(-20 454.7 1148.8)"/>
<path d="M 464.9 1147.4 L 477.1 1154.2 L 478.5 1151.5 L 466.3 1144.7 Z" stroke-width="1.8" fill="none"/>
<path d="M 436.3 1125.6 L 440.4 1124.3 L 441.8 1131.1 L 437.7 1131.1 Z" stroke-width="1.8" fill="none"/>
<path d="M 445.9 1118.8 L 452.7 1117.5 L 456.1 1124.3 L 449.3 1125.6 Z" stroke-width="1.8" fill="none"/>
<ellipse cx="452.7" cy="1133.1" rx="4.8" ry="3.4" stroke-width="1.8" fill="none" transform="rotate(-30 452.7 1133.1)"/>
<ellipse cx="486.7" cy="1175.2" rx="11.1" ry="16.2" stroke-width="2.5" fill="#fff" transform="rotate(-25 486.7 1175.2)"/>
<ellipse cx="494.9" cy="1175.2" rx="2" ry="2" stroke-width="2" fill="#fff"/>
<ellipse cx="490.8" cy="1185.8" rx="2" ry="2" stroke-width="2" fill="#fff"/>
<ellipse cx="482.7" cy="1185.8" rx="2" ry="2" stroke-width="2" fill="#fff"/>
<ellipse cx="478.6" cy="1175.2" rx="2" ry="2" stroke-width="2" fill="#fff"/>
<ellipse cx="482.7" cy="1164.6" rx="2" ry="2" stroke-width="2" fill="#fff"/>
<ellipse cx="490.8" cy="1164.6" rx="2" ry="2" stroke-width="2" fill="#fff"/>
<path d="M 456.1 1176.9 Q 461.2 1168.4 473.1 1170.1 L 488.4 1180.3 Q 488.4 1192.2 479.9 1197.3 L 464.6 1200.7 Q 454.4 1195.6 456.1 1176.9 Z" stroke-width="2" fill="#fff"/>
<ellipse cx="461.2" cy="1187.9" rx="7.7" ry="9.9" stroke-width="4.5" fill="#fff" transform="rotate(-20 461.2 1187.9)"/>
<ellipse cx="461.6" cy="1188.4" rx="4.4" ry="6.5" stroke-width="2" fill="none" transform="rotate(-20 461.6 1188.4)"/>
<path d="M 465.5 1201.5 L 481.6 1195.6 L 485.9 1205.8 L 471.4 1210.9 Z" stroke-width="2.5" fill="#fff"/>
<path d="M 468 1206.6 L 483.3 1201.5" stroke-width="1.5" fill="none"/>
<ellipse cx="580.3" cy="1124.1" rx="6.8" ry="7.7" stroke-width="2.5" fill="none"/>
<ellipse cx="580.3" cy="1124.1" rx="2.6" ry="3.4" stroke-width="2" fill="none"/>
<ellipse cx="588.8" cy="1140.3" rx="6" ry="7.7" stroke-width="2.5" fill="none"/>
<path d="M 558.2 1146.3 L 563.3 1142.9 L 571.8 1146.3 L 571.8 1153.1 L 565 1157.3 L 559 1153.9 Z" stroke-width="2" fill="none"/>
<ellipse cx="562.9" cy="1168.1" rx="2.7" ry="2" stroke-width="2" fill="none"/>
<ellipse cx="562.9" cy="1181" rx="2.7" ry="3.4" stroke-width="2.5" fill="none"/>
<ellipse cx="579.9" cy="1179.7" rx="2.7" ry="4.1" stroke-width="2" fill="none"/>
<path d="M 534.3 1176.3 Q 539.7 1165.4 549.3 1164 Q 547.9 1172.2 534.3 1177.6 Z" stroke-width="1.8" fill="none"/>
<path d="M 595.5 1157.2 L 609.1 1151.8 Q 610.5 1159.9 595.5 1168.1 Z" stroke-width="2" fill="none"/>
<ellipse cx="588" cy="1166.7" rx="4.1" ry="4.8" stroke-width="2.5" fill="none"/>
<ellipse cx="575.1" cy="1158.6" rx="4.1" ry="2.7" stroke-width="2" fill="none" transform="rotate(-30 575.1 1158.6)"/>
<ellipse cx="630.4" cy="1110.5" rx="4.3" ry="6" stroke-width="2.5" fill="none" transform="rotate(20 630.4 1110.5)"/>
<ellipse cx="630.4" cy="1110.5" rx="1.7" ry="2.6" stroke-width="1.5" fill="none" transform="rotate(20 630.4 1110.5)"/>
<ellipse cx="600.7" cy="1126.7" rx="4.3" ry="2.6" stroke-width="2" fill="none" transform="rotate(-40 600.7 1126.7)"/>
<path d="M 550 1232.2 L 555.7 1223.1 L 568.7 1218.5 L 581.7 1187.9 Q 585.1 1182.3 590.8 1183.4 L 623.7 1197 L 618 1265 L 601 1273.5 Q 589.7 1273 578.3 1263.3 L 573.8 1262.8 Q 567 1260.5 565.3 1252.6 L 568.1 1244.1 Z" stroke-width="1.8" fill="#fff"/>
<path d="M 584 1190.2 L 606.7 1194.7 M 579.5 1205.5 L 590.8 1197 M 568.7 1219.7 L 576.6 1231" stroke-width="1.4" fill="none"/>
<path d="M 550 1233.9 L 577.2 1249.2 M 565.3 1245.2 Q 567 1259.4 578.3 1265" stroke-width="1.4" fill="none"/>
<ellipse cx="608.7" cy="1237.3" rx="25.5" ry="33" stroke-width="14" fill="#fff" transform="rotate(25 608.7 1237.3)"/>
<ellipse cx="628.6" cy="1253.8" rx="4.4" ry="5.3" stroke-width="1.5" fill="#fff" transform="rotate(25 628.6 1253.8)"/>
<ellipse cx="618.7" cy="1264" rx="4.4" ry="5.3" stroke-width="1.5" fill="#fff" transform="rotate(25 618.7 1264)"/>
<ellipse cx="606.8" cy="1268.8" rx="4.4" ry="5.3" stroke-width="1.5" fill="#fff" transform="rotate(25 606.8 1268.8)"/>
<ellipse cx="595.3" cy="1267.5" rx="4.4" ry="5.3" stroke-width="1.5" fill="#fff" transform="rotate(25 595.3 1267.5)"/>
<ellipse cx="586.5" cy="1260.1" rx="4.4" ry="5.3" stroke-width="1.5" fill="#fff" transform="rotate(25 586.5 1260.1)"/>
<ellipse cx="582" cy="1248.3" rx="4.4" ry="5.3" stroke-width="1.5" fill="#fff" transform="rotate(25 582 1248.3)"/>
<ellipse cx="582.9" cy="1234.2" rx="4.4" ry="5.3" stroke-width="1.5" fill="#fff" transform="rotate(25 582.9 1234.2)"/>
<ellipse cx="588.8" cy="1220.8" rx="4.4" ry="5.3" stroke-width="1.5" fill="#fff" transform="rotate(25 588.8 1220.8)"/>
<ellipse cx="598.7" cy="1210.6" rx="4.4" ry="5.3" stroke-width="1.5" fill="#fff" transform="rotate(25 598.7 1210.6)"/>
<ellipse cx="610.6" cy="1205.8" rx="4.4" ry="5.3" stroke-width="1.5" fill="#fff" transform="rotate(25 610.6 1205.8)"/>
<ellipse cx="622.1" cy="1207.1" rx="4.4" ry="5.3" stroke-width="1.5" fill="#fff" transform="rotate(25 622.1 1207.1)"/>
<ellipse cx="630.9" cy="1214.5" rx="4.4" ry="5.3" stroke-width="1.5" fill="#fff" transform="rotate(25 630.9 1214.5)"/>
<ellipse cx="635.4" cy="1226.3" rx="4.4" ry="5.3" stroke-width="1.5" fill="#fff" transform="rotate(25 635.4 1226.3)"/>
<ellipse cx="634.5" cy="1240.4" rx="4.4" ry="5.3" stroke-width="1.5" fill="#fff" transform="rotate(25 634.5 1240.4)"/>
<ellipse cx="608.5" cy="1239" rx="15.5" ry="21" stroke-width="1.6" fill="#fff" transform="rotate(30 608.5 1239)"/>
<ellipse cx="610" cy="1240" rx="12.5" ry="17.5" stroke-width="1.1" fill="none" transform="rotate(30 610 1240)"/>
<ellipse cx="615.5" cy="1242" rx="5.5" ry="7.5" stroke-width="2" fill="none" transform="rotate(30 615.5 1242)"/>
<ellipse cx="616" cy="1242" rx="2.6" ry="3.6" stroke-width="1.4" fill="none" transform="rotate(30 616 1242)"/>
</g>
<!-- p_small_left.py -->
<g fill="none" stroke="#1d1d1b" stroke-linejoin="round" stroke-linecap="round">
<path d="M 432.4 882.8 L 448 873.7 Q 451.3 882.1 463 884.8 Q 480 886.1 485.2 875.6 Q 485.2 865.2 467.6 863.6 L 511.3 837.8 Q 515.2 846.9 529.5 848.2 Q 547.8 848.2 548.4 837.8 Q 546.5 828.7 529.5 827.1 L 545.2 817 L 634.5 868.5 L 618.2 877.6 L 610.4 875 Q 607.8 863.9 592.1 863.9 Q 576.5 865.2 576.5 874.3 Q 577.8 882.1 589.5 884.8 Q 599.3 887.4 599.3 889.3 L 555.6 913.4 L 549.1 910.2 Q 546.5 900.4 530.8 899.7 Q 515.2 900.4 513.6 909.5 Q 513.9 918.7 530.8 920.6 Q 536 923.2 536 924.9 L 520.4 934.3 Z" stroke-width="1.6" fill="none"/>
<path d="M432.4 882.8 L432.4 904.3" stroke-width="1.5" fill="none"/>
<path d="M434.3 914.7 L520.4 964.9 L536 953.2 L536 925.2" stroke-width="1.5" fill="none"/>
<path d="M435.6 913.4 L520.4 962.3 L534.7 953.9" stroke-width="1.2" fill="none"/>
<path d="M520.4 934.3 L520.4 964.9" stroke-width="1.5" fill="none"/>
<path d="M 536 934.3 Q 546.5 934.3 549.1 942.1 Q 551.7 947.3 555.6 943.4 L 599.3 918 L 599.3 889.3" stroke-width="1.6" fill="none"/>
<path d="M549.1 910.2 L549.1 942.1" stroke-width="1.5" fill="none"/>
<path d="M555.6 913.4 L555.6 943.4" stroke-width="1.5" fill="none"/>
<path d="M556.3 941.5 L598 917.3" stroke-width="1.2" fill="none"/>
<path d="M 599.3 896.5 Q 609.1 899.1 611.7 905.6 Q 614.3 910.8 618.2 908.2 L 634.5 899.1 L 634.5 868.5" stroke-width="1.6" fill="none"/>
<path d="M610.4 875 L610.4 904.3" stroke-width="1.5" fill="none"/>
<path d="M618.2 877.6 L618.2 908.2" stroke-width="1.5" fill="none"/>
<path d="M618.8 906.3 L633.8 897.1" stroke-width="1.2" fill="none"/>
<path d="M467.6 863.6 L467.6 884.8" stroke-width="1.5" fill="none"/>
<path d="M469.8 864.5 L469.8 884.8" stroke-width="1.5" fill="none"/>
<path d="M529.5 827.1 L529.5 848.2" stroke-width="1.5" fill="none"/>
<path d="M532.1 828 L532.1 848.2" stroke-width="1.5" fill="none"/>
<path d="M 189.4 1109.9 Q 190 1103 195 1101.1 L 259.8 1064.4 L 265.4 1068.1 L 265.4 1141.1 L 262.9 1142.9 L 195 1182.8 L 190 1179.7 Z" stroke-width="1.6" fill="none"/>
<path d="M195 1104.9 L195 1182.8" stroke-width="1.5" fill="none"/>
<path d="M195.6 1108 L263.6 1069.3" stroke-width="1.5" fill="none"/>
<path d="M193.7 1102.4 L261.1 1066.2" stroke-width="1.2" fill="none"/>
<path d="M265.4 1068.1 L265.4 1141.1" stroke-width="2.2" fill="none"/>
<path d="M195 1182.8 L262.9 1142.9" stroke-width="2.2" fill="none"/>
<ellipse cx="229.9" cy="1125.5" rx="5.6" ry="8.1" stroke-width="1.5" fill="none" transform="rotate(20 229.9 1125.5)"/>
<ellipse cx="229" cy="1126.3" rx="3.7" ry="5.6" stroke-width="1.2" fill="none" transform="rotate(20 229 1126.3)"/>
<g transform="translate(514 283.8)">
<path d="M 189.4 1109.9 Q 190 1103 195 1101.1 L 259.8 1064.4 L 265.4 1068.1 L 265.4 1141.1 L 262.9 1142.9 L 195 1182.8 L 190 1179.7 Z" stroke-width="1.6" fill="none"/>
<path d="M195 1104.9 L195 1182.8" stroke-width="1.5" fill="none"/>
<path d="M195.6 1108 L263.6 1069.3" stroke-width="1.5" fill="none"/>
<path d="M193.7 1102.4 L261.1 1066.2" stroke-width="1.2" fill="none"/>
<path d="M265.4 1068.1 L265.4 1141.1" stroke-width="2.2" fill="none"/>
<path d="M195 1182.8 L262.9 1142.9" stroke-width="2.2" fill="none"/>
<ellipse cx="229.9" cy="1125.5" rx="5.6" ry="8.1" stroke-width="1.5" fill="none" transform="rotate(20 229.9 1125.5)"/>
<ellipse cx="229" cy="1126.3" rx="3.7" ry="5.6" stroke-width="1.2" fill="none" transform="rotate(20 229 1126.3)"/>
</g>
<path d="M289.8 1214.6 L302.2 1207.2 L391.4 1258.9 L391.4 1269.5 L378.3 1277 L289.8 1225.9 L289.8 1214.6Z" stroke-width="1.6" fill="none"/>
<path d="M289.8 1215.3 L378.3 1267 L391.4 1259.5" stroke-width="1.5" fill="none"/>
<path d="M290.4 1217.1 L377.7 1268.5" stroke-width="1.2" fill="none"/>
<path d="M378.3 1267 L378.3 1277" stroke-width="1.5" fill="none"/>
<ellipse cx="340.9" cy="1235.8" rx="3.1" ry="2.1" stroke-width="1.5" fill="none"/>
<g transform="translate(408.2 -101.5)">
<path d="M289.8 1214.6 L302.2 1207.2 L391.4 1258.9 L391.4 1269.5 L378.3 1277 L289.8 1225.9 L289.8 1214.6Z" stroke-width="1.6" fill="none"/>
<path d="M289.8 1215.3 L378.3 1267 L391.4 1259.5" stroke-width="1.5" fill="none"/>
<path d="M290.4 1217.1 L377.7 1268.5" stroke-width="1.2" fill="none"/>
<path d="M378.3 1267 L378.3 1277" stroke-width="1.5" fill="none"/>
<ellipse cx="340.9" cy="1235.8" rx="3.1" ry="2.1" stroke-width="1.5" fill="none"/>
</g>
<path d="M 180.5 1448.2 Q 181.1 1444.3 186.1 1443.2 L 207.1 1430.5 Q 211 1430.5 211.6 1434.9 L 211.6 1451.5 Q 213.2 1457.1 218.8 1456.5 Q 228.8 1452.6 230.4 1439.3 L 230.4 1423.8 Q 227.6 1421.6 229.9 1417.2 L 250.4 1405.5 Q 255.4 1406.1 256.5 1409.4 L 256.5 1576.8 Q 255.9 1579 254.3 1579.6 L 186.6 1617.8 Q 181.1 1616.7 180.5 1612.3 Z" stroke-width="1.6" fill="none"/>
<path d="M186.1 1450.4 L209.9 1437.1" stroke-width="1.5" fill="none"/>
<path d="M231 1422.7 L255.9 1409.4" stroke-width="1.5" fill="none"/>
<path d="M183.3 1450.4 L183.3 1615.6" stroke-width="1.2" fill="none"/>
<path d="M185.5 1450.4 L185.5 1617.8" stroke-width="1.2" fill="none"/>
<path d="M 211.6 1452.6 Q 214.3 1457.1 218.8 1455.4 Q 225.4 1452.6 226.5 1437.1 L 226.5 1420.5" stroke-width="1.2" fill="none"/>
<ellipse cx="221" cy="1466" rx="5.5" ry="7.8" stroke-width="1.5" fill="none" transform="rotate(25 221 1466)"/>
<ellipse cx="220.4" cy="1466.5" rx="3.3" ry="5.3" stroke-width="1.2" fill="none" transform="rotate(25 220.4 1466.5)"/>
<path d="M 191.1 1530.3 Q 195.5 1518.1 206.6 1517 L 210.5 1519.2 L 210.5 1550.2 Q 206.6 1561.3 194.4 1563.5 L 191.1 1561.3 Z" stroke-width="1.6" fill="none"/>
<path d="M 205.5 1517.5 L 205.5 1546.9 Q 203.3 1556.9 193.3 1560.2" stroke-width="1.2" fill="none"/>
<path d="M 231 1505.9 Q 235.4 1492.6 246.5 1492.6 L 251.5 1495.9 L 251.5 1526.9 Q 247.6 1538 235.4 1540.2 L 231.5 1538 Z" stroke-width="1.6" fill="none"/>
<path d="M 246.5 1493.7 L 246.5 1522.5 Q 244.3 1532.5 233.2 1535.8" stroke-width="1.2" fill="none"/>
<g transform="translate(519.7 180.4)">
<path d="M 180.5 1448.2 Q 181.1 1444.3 186.1 1443.2 L 207.1 1430.5 Q 211 1430.5 211.6 1434.9 L 211.6 1451.5 Q 213.2 1457.1 218.8 1456.5 Q 228.8 1452.6 230.4 1439.3 L 230.4 1423.8 Q 227.6 1421.6 229.9 1417.2 L 250.4 1405.5 Q 255.4 1406.1 256.5 1409.4 L 256.5 1576.8 Q 255.9 1579 254.3 1579.6 L 186.6 1617.8 Q 181.1 1616.7 180.5 1612.3 Z" stroke-width="1.6" fill="none"/>
<path d="M186.1 1450.4 L209.9 1437.1" stroke-width="1.5" fill="none"/>
<path d="M231 1422.7 L255.9 1409.4" stroke-width="1.5" fill="none"/>
<path d="M183.3 1450.4 L183.3 1615.6" stroke-width="1.2" fill="none"/>
<path d="M185.5 1450.4 L185.5 1617.8" stroke-width="1.2" fill="none"/>
<path d="M 211.6 1452.6 Q 214.3 1457.1 218.8 1455.4 Q 225.4 1452.6 226.5 1437.1 L 226.5 1420.5" stroke-width="1.2" fill="none"/>
<ellipse cx="221" cy="1466" rx="5.5" ry="7.8" stroke-width="1.5" fill="none" transform="rotate(25 221 1466)"/>
<ellipse cx="220.4" cy="1466.5" rx="3.3" ry="5.3" stroke-width="1.2" fill="none" transform="rotate(25 220.4 1466.5)"/>
<path d="M 191.1 1530.3 Q 195.5 1518.1 206.6 1517 L 210.5 1519.2 L 210.5 1550.2 Q 206.6 1561.3 194.4 1563.5 L 191.1 1561.3 Z" stroke-width="1.6" fill="none"/>
<path d="M 205.5 1517.5 L 205.5 1546.9 Q 203.3 1556.9 193.3 1560.2" stroke-width="1.2" fill="none"/>
<path d="M 231 1505.9 Q 235.4 1492.6 246.5 1492.6 L 251.5 1495.9 L 251.5 1526.9 Q 247.6 1538 235.4 1540.2 L 231.5 1538 Z" stroke-width="1.6" fill="none"/>
<path d="M 246.5 1493.7 L 246.5 1522.5 Q 244.3 1532.5 233.2 1535.8" stroke-width="1.2" fill="none"/>
</g>
<path d="M442.5 1827.3 L530.3 1777.4 L619.3 1827.8" stroke-width="1.5" fill="none"/>
<path d="M442.5 1827.3 L442.5 1833.5 L530.3 1885.1 L619.3 1834.6 L619.3 1827.8" stroke-width="1.5" fill="none"/>
<path d="M442.5 1827.3 L530.3 1877.1 L619.3 1827.8" stroke-width="1.5" fill="none"/>
<path d="M530.3 1877.1 L530.3 1885.1" stroke-width="1.5" fill="none"/>
<path d="M 519 1851.6 Q 486.7 1844.8 487.3 1827.8 Q 489 1804 530.9 1804 Q 574 1805.1 575.1 1827.8 Q 574 1846 543.4 1851.6" stroke-width="1.6" fill="none"/>
<path d="M 486.7 1826.7 Q 489 1802.3 530.9 1802.3 Q 574 1802.9 575.7 1826.7" stroke-width="1.2" fill="none"/>
<ellipse cx="530.3" cy="1792.1" rx="16.4" ry="9.1" stroke-width="2.2" fill="#fff"/>
<path d="M517.9 1783.6 L513.9 1792.1" stroke-width="1.5" fill="none"/>
<path d="M542.8 1783.6 L546.8 1792.1" stroke-width="1.5" fill="none"/>
<rect x="516.7" y="1783.6" width="27.2" height="6.8" fill="#fff" stroke="none"/>
<path d="M517.9 1783.6 L514.5 1791.5" stroke-width="1.8" fill="none"/>
<path d="M542.8 1783.6 L546.2 1791.5" stroke-width="1.8" fill="none"/>
<ellipse cx="530.3" cy="1783.6" rx="12.5" ry="7.4" stroke-width="2.2" fill="#fff"/>
<ellipse cx="468" cy="1827.8" rx="16.4" ry="9.1" stroke-width="2.2" fill="#fff"/>
<path d="M455.5 1819.3 L451.5 1827.8" stroke-width="1.5" fill="none"/>
<path d="M480.5 1819.3 L484.4 1827.8" stroke-width="1.5" fill="none"/>
<rect x="454.4" y="1819.3" width="27.2" height="6.8" fill="#fff" stroke="none"/>
<path d="M455.5 1819.3 L452.1 1827.3" stroke-width="1.8" fill="none"/>
<path d="M480.5 1819.3 L483.9 1827.3" stroke-width="1.8" fill="none"/>
<ellipse cx="468" cy="1819.3" rx="12.5" ry="7.4" stroke-width="2.2" fill="#fff"/>
<ellipse cx="593.8" cy="1827.8" rx="16.4" ry="9.1" stroke-width="2.2" fill="#fff"/>
<path d="M581.4 1819.3 L577.4 1827.8" stroke-width="1.5" fill="none"/>
<path d="M606.3 1819.3 L610.3 1827.8" stroke-width="1.5" fill="none"/>
<rect x="580.2" y="1819.3" width="27.2" height="6.8" fill="#fff" stroke="none"/>
<path d="M581.4 1819.3 L578 1827.3" stroke-width="1.8" fill="none"/>
<path d="M606.3 1819.3 L609.7 1827.3" stroke-width="1.8" fill="none"/>
<ellipse cx="593.8" cy="1819.3" rx="12.5" ry="7.4" stroke-width="2.2" fill="#fff"/>
<ellipse cx="530.3" cy="1863.5" rx="16.4" ry="9.1" stroke-width="2.2" fill="#fff"/>
<path d="M517.9 1855 L513.9 1863.5" stroke-width="1.5" fill="none"/>
<path d="M542.8 1855 L546.8 1863.5" stroke-width="1.5" fill="none"/>
<rect x="516.7" y="1855" width="27.2" height="6.8" fill="#fff" stroke="none"/>
<path d="M517.9 1855 L514.5 1863" stroke-width="1.8" fill="none"/>
<path d="M542.8 1855 L546.2 1863" stroke-width="1.8" fill="none"/>
<ellipse cx="530.3" cy="1855" rx="12.5" ry="7.4" stroke-width="2.2" fill="#fff"/>
</g>
<!-- p_small_right.py -->
<g fill="none" stroke="#1d1d1b" stroke-linejoin="round" stroke-linecap="round">
<ellipse cx="1437.3" cy="527.4" rx="12.8" ry="8" stroke-width="1.5" fill="#1d1d1b"/>
<path d="M1433 524.5H1440M1435.5 530.3H1439" stroke="#fff" stroke-width="1.3"/>
<path d="M1437 538V694" stroke-width="1.3" stroke-dasharray="16 4 2 4"/>
<path d="M1307 581 L1312 575 L1324 574 L1329 580 L1329 586 L1324 591.5 L1312 591 L1307 585Z" stroke-width="1.6" fill="#fff"/>
<ellipse cx="1318" cy="579.5" rx="8.5" ry="5.5" stroke-width="1.5" fill="none"/>
<ellipse cx="1318" cy="579.5" rx="5" ry="3" stroke-width="1.5" fill="none"/>
<path d="M1312 584 L1312 591" stroke-width="1.2" fill="none"/>
<path d="M1324 583 L1324 591.5" stroke-width="1.2" fill="none"/>
<path d="M1554.7 644.5 L1559.7 638.5 L1571.7 637.5 L1576.7 643.5 L1576.7 649.5 L1571.7 655 L1559.7 654.5 L1554.7 648.5Z" stroke-width="1.6" fill="#fff"/>
<ellipse cx="1565.7" cy="643" rx="8.5" ry="5.5" stroke-width="1.5" fill="none"/>
<ellipse cx="1565.7" cy="643" rx="5" ry="3" stroke-width="1.5" fill="none"/>
<path d="M1559.7 647.5 L1559.7 654.5" stroke-width="1.2" fill="none"/>
<path d="M1571.7 646.5 L1571.7 655" stroke-width="1.2" fill="none"/>
<path d="M 1302.6 665.7 L 1308.6 656.2 L 1583.6 725.2 L 1576.4 737.1 L 1303.8 669.3 Z" stroke-width="1.6" fill="none"/>
<path d="M1302.6 665.7 L1576.4 733.6 L1583.6 725.2" stroke-width="1.3" fill="none"/>
<ellipse cx="1318.1" cy="664.5" rx="7.6" ry="4.8" stroke-width="1.5" fill="none"/>
<ellipse cx="1565.7" cy="727.6" rx="7.6" ry="4.8" stroke-width="1.5" fill="none"/>
<path d="M1312 754 V733 Q1312 729 1318 729 Q1324 729 1324 733 V754" stroke-width="1.6" fill="#fff"/>
<ellipse cx="1318" cy="732" rx="6" ry="2.5" stroke-width="1.2" fill="none"/>
<path d="M1309 755 V767 Q1318 772 1327 767 V755" stroke-width="1.6" fill="#fff"/>
<ellipse cx="1318" cy="755" rx="9" ry="3.5" stroke-width="1.6" fill="#fff"/>
<ellipse cx="1318" cy="755.5" rx="5" ry="2" stroke-width="1.2" fill="none"/>
<path d="M1561 817 V796 Q1561 792 1567 792 Q1573 792 1573 796 V817" stroke-width="1.6" fill="#fff"/>
<ellipse cx="1567" cy="795" rx="6" ry="2.5" stroke-width="1.2" fill="none"/>
<path d="M1558 818 V830 Q1567 835 1576 830 V818" stroke-width="1.6" fill="#fff"/>
<ellipse cx="1567" cy="818" rx="9" ry="3.5" stroke-width="1.6" fill="#fff"/>
<ellipse cx="1567" cy="818.5" rx="5" ry="2" stroke-width="1.2" fill="none"/>
<ellipse cx="1093.9" cy="745.9" rx="2.7" ry="4.4" stroke-width="1.4" fill="none" transform="rotate(20 1093.9 745.9)"/>
<ellipse cx="1095.2" cy="745.9" rx="1.4" ry="2.7" stroke-width="1.1" fill="none" transform="rotate(20 1095.2 745.9)"/>
<ellipse cx="1130.4" cy="766.3" rx="2.7" ry="4.4" stroke-width="1.4" fill="none" transform="rotate(20 1130.4 766.3)"/>
<ellipse cx="1131.8" cy="766.3" rx="1.4" ry="2.7" stroke-width="1.1" fill="none" transform="rotate(20 1131.8 766.3)"/>
<ellipse cx="1093.9" cy="779" rx="2.7" ry="4.4" stroke-width="1.4" fill="none" transform="rotate(20 1093.9 779)"/>
<ellipse cx="1095.2" cy="779" rx="1.4" ry="2.7" stroke-width="1.1" fill="none" transform="rotate(20 1095.2 779)"/>
<ellipse cx="1130.4" cy="800.3" rx="2.7" ry="4.4" stroke-width="1.4" fill="none" transform="rotate(20 1130.4 800.3)"/>
<ellipse cx="1131.8" cy="800.3" rx="1.4" ry="2.7" stroke-width="1.1" fill="none" transform="rotate(20 1131.8 800.3)"/>
<path d="M1104.1 744.1 L1098.1 745.5" stroke-width="1.3" fill="none"/>
<path d="M1107.1 747.2 L1095.6 776.1" stroke-width="1.3" fill="none"/>
<path d="M1112.2 748.4 L1127.9 764.2" stroke-width="1.3" fill="none"/>
<path d="M1110.5 749.3 L1130.4 796.9" stroke-width="1.3" fill="none"/>
<path d="M 991.8 794.3 Q 988.4 796 988.4 800.3 L 988.4 837.7 Q 988.4 841.1 992.7 843.6 L 1032.7 867.4 Q 1036.9 870 1039.5 866.6 L 1039.5 827.5 Q 1039.5 823.2 1035.2 820.7 L 996.1 795.2 Q 993.5 793.5 991.8 794.3 Z" stroke-width="1.8" fill="#fff"/>
<path d="M991.8 794.3 L1005.4 788.4 L1051.4 813 L1039.5 822.4" stroke-width="1.6" fill="none"/>
<path d="M995.2 793.5 L1046.3 817.3" stroke-width="1.2" fill="none"/>
<path d="M1051.4 813 L1055.6 820.7 L1055.6 858.1 L1041.2 868.3" stroke-width="1.6" fill="none"/>
<path d="M1038.6 824.9 L1053.9 817.3" stroke-width="1.2" fill="none"/>
<path d="M1000.3 811.3 L1026.7 825.8 L1026.7 855.5 L1000.3 841.1 L1000.3 811.3" stroke-width="2.4" fill="none"/>
<path d="M1003.7 814.7 L1003.7 841.1" stroke-width="4" fill="none"/>
<path d="M 1008.8 834.3 L 1022.4 844.5" stroke-width="5" fill="none"/>
<ellipse cx="993.5" cy="800.3" rx="3.7" ry="4.3" stroke-width="1.5" fill="none"/>
<ellipse cx="994" cy="800.8" rx="2" ry="2.6" stroke-width="2.6" fill="none"/>
<ellipse cx="1035.2" cy="825.8" rx="3.7" ry="4.3" stroke-width="1.5" fill="none"/>
<ellipse cx="1035.7" cy="826.3" rx="2" ry="2.6" stroke-width="2.6" fill="none"/>
<ellipse cx="992.7" cy="841.1" rx="3.7" ry="4.3" stroke-width="1.5" fill="none"/>
<ellipse cx="993.2" cy="841.6" rx="2" ry="2.6" stroke-width="2.6" fill="none"/>
<ellipse cx="1035.2" cy="864.9" rx="3.7" ry="4.3" stroke-width="1.5" fill="none"/>
<ellipse cx="1035.7" cy="865.4" rx="2" ry="2.6" stroke-width="2.6" fill="none"/>
<ellipse cx="1014.8" cy="789.2" rx="3.1" ry="3.7" stroke-width="2" fill="#1d1d1b"/>
<ellipse cx="1056.5" cy="813.9" rx="3.1" ry="3.7" stroke-width="2" fill="#1d1d1b"/>
<ellipse cx="1056.5" cy="852.1" rx="3.1" ry="3.7" stroke-width="2" fill="#1d1d1b"/>
<ellipse cx="1011.4" cy="822.4" rx="1.7" ry="2" stroke-width="2" fill="#1d1d1b"/>
<ellipse cx="1279.9" cy="1011.8" rx="6.5" ry="11.3" stroke-width="1.8" fill="#fff" transform="rotate(22 1279.9 1011.8)"/>
<ellipse cx="1284.9" cy="1010.4" rx="7.8" ry="11.5" stroke-width="1.8" fill="#fff" transform="rotate(22 1284.9 1010.4)"/>
<ellipse cx="1285.4" cy="1010.8" rx="3.9" ry="6" stroke-width="2.3" fill="none" transform="rotate(22 1285.4 1010.8)"/>
<ellipse cx="1285" cy="1011" rx="1.5" ry="3" stroke-width="1.2" fill="none" transform="rotate(22 1285 1011)"/>
<ellipse cx="1216.3" cy="1047.5" rx="6.5" ry="11.3" stroke-width="1.8" fill="#fff" transform="rotate(22 1216.3 1047.5)"/>
<ellipse cx="1221.3" cy="1046.1" rx="7.8" ry="11.5" stroke-width="1.8" fill="#fff" transform="rotate(22 1221.3 1046.1)"/>
<ellipse cx="1221.8" cy="1046.5" rx="3.9" ry="6" stroke-width="2.3" fill="none" transform="rotate(22 1221.8 1046.5)"/>
<ellipse cx="1221.4" cy="1046.7" rx="1.5" ry="3" stroke-width="1.2" fill="none" transform="rotate(22 1221.4 1046.7)"/>
<ellipse cx="1591.6" cy="1483.9" rx="6.5" ry="11.3" stroke-width="1.8" fill="#fff" transform="rotate(22 1591.6 1483.9)"/>
<ellipse cx="1596.6" cy="1482.5" rx="7.8" ry="11.5" stroke-width="1.8" fill="#fff" transform="rotate(22 1596.6 1482.5)"/>
<ellipse cx="1597.1" cy="1482.9" rx="3.9" ry="6" stroke-width="2.3" fill="none" transform="rotate(22 1597.1 1482.9)"/>
<ellipse cx="1596.7" cy="1483.1" rx="1.5" ry="3" stroke-width="1.2" fill="none" transform="rotate(22 1596.7 1483.1)"/>
<ellipse cx="1665.3" cy="1527" rx="6.5" ry="11.3" stroke-width="1.8" fill="#fff" transform="rotate(22 1665.3 1527)"/>
<ellipse cx="1670.3" cy="1525.6" rx="7.8" ry="11.5" stroke-width="1.8" fill="#fff" transform="rotate(22 1670.3 1525.6)"/>
<ellipse cx="1670.8" cy="1526" rx="3.9" ry="6" stroke-width="2.3" fill="none" transform="rotate(22 1670.8 1526)"/>
<ellipse cx="1670.4" cy="1526.2" rx="1.5" ry="3" stroke-width="1.2" fill="none" transform="rotate(22 1670.4 1526.2)"/>
<ellipse cx="1654.5" cy="1563.2" rx="6.5" ry="11.3" stroke-width="1.8" fill="#fff" transform="rotate(22 1654.5 1563.2)"/>
<ellipse cx="1659.5" cy="1561.8" rx="7.8" ry="11.5" stroke-width="1.8" fill="#fff" transform="rotate(22 1659.5 1561.8)"/>
<ellipse cx="1660" cy="1562.2" rx="3.9" ry="6" stroke-width="2.3" fill="none" transform="rotate(22 1660 1562.2)"/>
<ellipse cx="1659.6" cy="1562.4" rx="1.5" ry="3" stroke-width="1.2" fill="none" transform="rotate(22 1659.6 1562.4)"/>
<ellipse cx="1274" cy="1528.4" rx="8" ry="10.5" stroke-width="1.8" fill="#fff" transform="rotate(-30 1274 1528.4)"/>
<ellipse cx="1270" cy="1530.6" rx="8" ry="10.5" stroke-width="1.8" fill="#fff" transform="rotate(-30 1270 1530.6)"/>
<ellipse cx="1272.6" cy="1597.1" rx="6.5" ry="11.3" stroke-width="1.8" fill="#fff" transform="rotate(22 1272.6 1597.1)"/>
<ellipse cx="1277.6" cy="1595.7" rx="7.8" ry="11.5" stroke-width="1.8" fill="#fff" transform="rotate(22 1277.6 1595.7)"/>
<ellipse cx="1278.1" cy="1596.1" rx="3.9" ry="6" stroke-width="2.3" fill="none" transform="rotate(22 1278.1 1596.1)"/>
<ellipse cx="1277.7" cy="1596.3" rx="1.5" ry="3" stroke-width="1.2" fill="none" transform="rotate(22 1277.7 1596.3)"/>
<ellipse cx="1228.9" cy="1622.4" rx="6.5" ry="11.3" stroke-width="1.8" fill="#fff" transform="rotate(22 1228.9 1622.4)"/>
<ellipse cx="1233.9" cy="1621" rx="7.8" ry="11.5" stroke-width="1.8" fill="#fff" transform="rotate(22 1233.9 1621)"/>
<ellipse cx="1234.4" cy="1621.4" rx="3.9" ry="6" stroke-width="2.3" fill="none" transform="rotate(22 1234.4 1621.4)"/>
<ellipse cx="1234" cy="1621.6" rx="1.5" ry="3" stroke-width="1.2" fill="none" transform="rotate(22 1234 1621.6)"/>
<ellipse cx="1173.7" cy="1727.8" rx="8" ry="10.5" stroke-width="1.8" fill="#fff" transform="rotate(-30 1173.7 1727.8)"/>
<ellipse cx="1169.7" cy="1730" rx="8" ry="10.5" stroke-width="1.8" fill="#fff" transform="rotate(-30 1169.7 1730)"/>
<ellipse cx="1248.8" cy="1770.4" rx="8" ry="10.5" stroke-width="1.8" fill="#fff" transform="rotate(-30 1248.8 1770.4)"/>
<ellipse cx="1244.8" cy="1772.6" rx="8" ry="10.5" stroke-width="1.8" fill="#fff" transform="rotate(-30 1244.8 1772.6)"/>
<ellipse cx="1238.2" cy="1807.2" rx="8" ry="10.5" stroke-width="1.8" fill="#fff" transform="rotate(-30 1238.2 1807.2)"/>
<ellipse cx="1234.2" cy="1809.4" rx="8" ry="10.5" stroke-width="1.8" fill="#fff" transform="rotate(-30 1234.2 1809.4)"/>
<ellipse cx="1712" cy="1014.5" rx="22.4" ry="28.6" stroke-width="2.2" fill="#fff" transform="rotate(-18 1712 1014.5)"/>
<ellipse cx="1707.1" cy="1017.8" rx="22.4" ry="28.6" stroke-width="2" fill="#fff" transform="rotate(-18 1707.1 1017.8)"/>
<ellipse cx="1707.1" cy="1017.8" rx="22" ry="28" stroke-width="1.2" fill="none" transform="rotate(-18 1707.1 1017.8)"/>
<ellipse cx="1708.8" cy="1016.7" rx="16.2" ry="21.4" stroke-width="1.3" fill="none" transform="rotate(-18 1708.8 1016.7)"/>
<ellipse cx="1709.6" cy="1016.1" rx="12.3" ry="16.6" stroke-width="1.3" fill="none" transform="rotate(-18 1709.6 1016.1)"/>
<ellipse cx="1710.2" cy="1015.7" rx="7.2" ry="9.4" stroke-width="2.5" fill="none" transform="rotate(-18 1710.2 1015.7)"/>
<ellipse cx="1710.2" cy="1015.7" rx="4" ry="5.7" stroke-width="1.2" fill="none" transform="rotate(-18 1710.2 1015.7)"/>
<ellipse cx="1234.5" cy="1296.2" rx="22.2" ry="28.5" stroke-width="2.2" fill="#fff" transform="rotate(-18 1234.5 1296.2)"/>
<ellipse cx="1229.8" cy="1299.3" rx="22.2" ry="28.5" stroke-width="2" fill="#fff" transform="rotate(-18 1229.8 1299.3)"/>
<ellipse cx="1229.8" cy="1299.3" rx="21.7" ry="28" stroke-width="1.2" fill="none" transform="rotate(-18 1229.8 1299.3)"/>
<ellipse cx="1231.4" cy="1298.3" rx="16" ry="21.4" stroke-width="1.3" fill="none" transform="rotate(-18 1231.4 1298.3)"/>
<ellipse cx="1232.2" cy="1297.7" rx="12.2" ry="16.5" stroke-width="1.3" fill="none" transform="rotate(-18 1232.2 1297.7)"/>
<ellipse cx="1232.7" cy="1297.3" rx="7.1" ry="9.4" stroke-width="2.5" fill="none" transform="rotate(-18 1232.7 1297.3)"/>
<ellipse cx="1232.7" cy="1297.3" rx="4" ry="5.7" stroke-width="1.2" fill="none" transform="rotate(-18 1232.7 1297.3)"/>
<path d="M 1796.3 915 Q 1798.2 911.6 1801.8 912 Q 1805.9 913.2 1811.8 919.5 L 1834.9 912.2 Q 1837.2 911.3 1839 912.2 L 1853.5 921.8 L 1865.7 942.2 Q 1866.2 944.4 1863.5 945.4 L 1839 960.3 L 1837.6 959.4 L 1826.3 959 L 1806.3 970.7 L 1796.3 965.8 L 1795.9 954.4 L 1804.5 949.9 L 1802.2 947.2 Q 1800.4 946.3 1800.4 944.9 L 1800.4 929.9 Q 1800.4 928.6 1801.3 928.1 L 1796.3 920 Z" stroke-width="2" fill="#fff"/>
<path d="M1801.3 928.1 L1814.5 924 L1827.6 929 L1832.6 929.5 L1853 921.8" stroke-width="2" fill="none"/>
<path d="M1814.5 920 L1827.6 929" stroke-width="2" fill="none"/>
<path d="M1826.3 929.9 L1826.3 937.6 L1839.9 958.5" stroke-width="1.6" fill="none"/>
<path d="M1802.2 947.2 L1826.3 937.6" stroke-width="2" fill="none"/>
<path d="M1832.6 929.5 L1842.2 953.5 L1842.2 958.5" stroke-width="1.6" fill="none"/>
<path d="M1842.6 951.7 L1854.4 943.5 L1864.4 944.9" stroke-width="1.6" fill="none"/>
<path d="M1804.5 949.9 L1814 965.8" stroke-width="1.6" fill="none"/>
<path d="M1797.3 954.4 L1806.3 970.7" stroke-width="1.6" fill="none"/>
<path d="M1800 923.1 L1811.3 919" stroke-width="1.6" fill="none"/>
<ellipse cx="1800.2" cy="917.2" rx="1.6" ry="2" stroke-width="1.6" fill="none"/>
<path d="M 1835.4 940.8 Q 1837.6 935.4 1843.5 936.3 Q 1847.1 937.6 1846.7 940.8 L 1844.4 947.6" stroke-width="1.8" fill="none"/>
<ellipse cx="1796.8" cy="964.9" rx="1.8" ry="2.3" stroke-width="3" fill="none"/>
<path d="M 1136 1301.7 Q 1137.6 1299.7 1140.6 1299.2 Q 1145.7 1300.2 1148.8 1304.3 Q 1150.8 1306.8 1150.3 1308.9 L 1153.4 1309.9 L 1166.6 1318.6 L 1166.1 1321.1 L 1168.7 1322.7 L 1175.8 1319.6 Q 1178.9 1319.1 1186 1324.7 L 1185 1335.9 L 1182.4 1337.4 L 1165.1 1347.1 L 1161 1356.8 L 1159 1357.3 L 1160.5 1359.4 L 1134 1374.7 L 1129.9 1373.7 L 1118.4 1352.2 L 1118.4 1333.4 L 1120.2 1330.8 L 1137.6 1315.5 L 1136 1310.4 Z" stroke-width="2" fill="#fff"/>
<path d="M1120.2 1330.8 L1138.6 1315.5" stroke-width="2.2" fill="none"/>
<path d="M1131.4 1325.7 L1153.4 1309.9" stroke-width="1.6" fill="none"/>
<path d="M1126.8 1328.8 L1145.7 1336.9" stroke-width="1.8" fill="none"/>
<path d="M1145.7 1335.9 L1166.6 1319.6" stroke-width="2.2" fill="none"/>
<path d="M1140.6 1341.5 L1150.3 1358.4 L1159 1357.3" stroke-width="1.8" fill="none"/>
<path d="M1146.7 1338.5 L1158.5 1357.9" stroke-width="1.8" fill="none"/>
<path d="M1130.4 1369.6 L1149.3 1358.4" stroke-width="1.8" fill="none"/>
<path d="M1169.2 1323.7 L1177.3 1339" stroke-width="1.8" fill="none"/>
<path d="M1173.8 1321.6 L1182.4 1337.4" stroke-width="1.8" fill="none"/>
<path d="M1138.6 1314.5 L1150.3 1308.4" stroke-width="1.8" fill="none"/>
<ellipse cx="1140.6" cy="1304.8" rx="1.5" ry="2" stroke-width="3" fill="none"/>
<ellipse cx="1177.6" cy="1328.8" rx="2.6" ry="2.8" stroke-width="4" fill="none"/>
<ellipse cx="1185" cy="1325.2" rx="1.5" ry="1.8" stroke-width="2.5" fill="none"/>
<ellipse cx="1849.4" cy="889.2" rx="2.8" ry="4" stroke-width="1.8" fill="none" transform="rotate(20 1849.4 889.2)"/>
<ellipse cx="1079.5" cy="1340.3" rx="2.8" ry="4.2" stroke-width="1.8" fill="none" transform="rotate(20 1079.5 1340.3)"/>
<path d="M1885 864.5 L1894 859.5 L1896 863.5 L1887 868.5 Z" stroke-width="1.5" fill="#fff"/>
<ellipse cx="1895" cy="861.5" rx="2.5" ry="3.5" stroke-width="1.8" fill="#fff" transform="rotate(25 1895 861.5)"/>
<path d="M1033.5 1363.5 L1042.5 1358.5 L1044.5 1362.5 L1035.5 1367.5 Z" stroke-width="1.5" fill="#fff"/>
<ellipse cx="1043.5" cy="1360.5" rx="2.5" ry="3.5" stroke-width="1.8" fill="#fff" transform="rotate(25 1043.5 1360.5)"/>
<path d="M 1622.4 1302.9 L 1720.4 1247.8 L 1728.6 1253.9 L 1728.6 1339.6 L 1706.1 1390.6 Q 1685.7 1409 1651 1425.3 L 1622.4 1401.8 Z" stroke-width="2" fill="none"/>
<path d="M1622.4 1300.8 L1720.4 1246.7" stroke-width="2.4" fill="none"/>
<ellipse cx="1659.2" cy="1338.6" rx="13.9" ry="26.1" stroke-width="2" fill="none" transform="rotate(15 1659.2 1338.6)"/>
<path d="M 1653.1 1315.1 Q 1665.3 1333.5 1661.2 1362 M 1661.2 1315.1 Q 1671.4 1333.5 1669.4 1355.9" stroke-width="1.4" fill="none"/>
<ellipse cx="1628.8" cy="1308.1" rx="3.9" ry="3.9" stroke-width="2.6" fill="#fff"/>
<ellipse cx="1629.4" cy="1308.4" rx="1.9" ry="1.9" stroke-width="1.8" fill="none"/>
<ellipse cx="1726.6" cy="1333.6" rx="3.9" ry="3.9" stroke-width="2.6" fill="#fff"/>
<ellipse cx="1727.2" cy="1334" rx="1.9" ry="1.9" stroke-width="1.8" fill="none"/>
<ellipse cx="1628.8" cy="1381.3" rx="3.9" ry="3.9" stroke-width="2.6" fill="#fff"/>
<ellipse cx="1629.4" cy="1381.7" rx="1.9" ry="1.9" stroke-width="1.8" fill="none"/>
<ellipse cx="1705.4" cy="1382.7" rx="3.9" ry="3.9" stroke-width="2.6" fill="#fff"/>
<ellipse cx="1706" cy="1383.1" rx="1.9" ry="1.9" stroke-width="1.8" fill="none"/>
<ellipse cx="1649" cy="1415" rx="3.9" ry="3.9" stroke-width="2.6" fill="#fff"/>
<ellipse cx="1649.6" cy="1415.4" rx="1.9" ry="1.9" stroke-width="1.8" fill="none"/>
<ellipse cx="1719.4" cy="1247.3" rx="1.2" ry="1.2" stroke-width="2" fill="none"/>
<path d="M 1723.2 1250.7 Q 1725.6 1254.1 1730 1250.7" stroke-width="2.5" fill="none"/>
<ellipse cx="1621.6" cy="1303.7" rx="1.4" ry="1.7" stroke-width="2" fill="none"/>
<ellipse cx="1621.1" cy="1376" rx="1.2" ry="1.4" stroke-width="2" fill="none"/>
<path d="M 1636 1254.1 Q 1637.9 1250.7 1645.7 1251.7 L 1652.4 1257 Q 1656.3 1260.8 1658.2 1268.5 L 1663 1280.1 L 1658.2 1282 L 1653.4 1271.4 Q 1650.5 1268.5 1642.8 1261.8 L 1637 1257 Z" stroke-width="2.2" fill="#fff"/>
<ellipse cx="1641.8" cy="1256" rx="3.9" ry="3.4" stroke-width="2.5" fill="none" transform="rotate(-30 1641.8 1256)"/>
<ellipse cx="1650" cy="1260.8" rx="3.4" ry="4.3" stroke-width="4" fill="none" transform="rotate(-30 1650 1260.8)"/>
<path d="M 1626.4 1292.6 Q 1629.3 1289.3 1635.1 1290.7 Q 1638.9 1292.6 1639.9 1293.6 L 1629.3 1299.4 Q 1625.9 1297.5 1626.4 1292.6 Z" stroke-width="2" fill="none"/>
<path d="M 1690 1301.3 L 1708.3 1294.6 L 1712.1 1297.5 L 1694.8 1307.1 Z" stroke-width="2.4" fill="#fff"/>
<ellipse cx="1711.2" cy="1292.6" rx="3.4" ry="2.4" stroke-width="2.2" fill="#fff" transform="rotate(-25 1711.2 1292.6)"/>
<ellipse cx="1712.1" cy="1301.8" rx="3.4" ry="2.4" stroke-width="2.2" fill="#fff" transform="rotate(-25 1712.1 1301.8)"/>
<ellipse cx="1691.4" cy="1302.3" rx="3.4" ry="2.4" stroke-width="2.2" fill="#fff" transform="rotate(-25 1691.4 1302.3)"/>
<ellipse cx="1692.9" cy="1312.9" rx="3.4" ry="2.4" stroke-width="2.2" fill="#fff" transform="rotate(-25 1692.9 1312.9)"/>
<path d="M 1752 1350.8 L 1783.7 1329.4 L 1803.1 1335.5 L 1803.1 1348.8 L 1764.3 1370.2 L 1752 1364.1 Z" stroke-width="1.8" fill="#fff"/>
<path d="M1752 1350.8 L1764.3 1356.9 L1803.1 1335.5" stroke-width="1.6" fill="none"/>
<path d="M1764.3 1356.9 L1764.3 1370.2" stroke-width="1.6" fill="none"/>
<path d="M1757.1 1343.7 L1761.2 1344.7" stroke-width="1.4" fill="none"/>
<path d="M1767.3 1347.8 L1798 1332.4" stroke-width="1.4" fill="none"/>
<ellipse cx="1758.2" cy="1361" rx="5.7" ry="6.1" stroke-width="2.2" fill="none"/>
<ellipse cx="1758.2" cy="1361" rx="2.4" ry="2.9" stroke-width="1.4" fill="none"/>
<path d="M 1770.4 1372.2 L 1770.4 1421.2 Q 1779.6 1429.4 1790.8 1423.3 L 1790.8 1368.2" stroke-width="1.6" fill="#fff"/>
<ellipse cx="1781.6" cy="1370.2" rx="11.2" ry="6.1" stroke-width="1.6" fill="#fff"/>
<ellipse cx="1832.7" cy="1439.6" rx="18" ry="31" stroke-width="1.8" fill="#fff" transform="rotate(12 1832.7 1439.6)"/>
<path d="M 1842.9 1411 Q 1820.4 1409 1815.3 1435.5 Q 1812.2 1462 1826.5 1468.2" stroke-width="4" fill="none"/>
<path d="M 1828.6 1451.8 Q 1834.7 1458 1842.9 1447.8 L 1840.8 1445.7 Q 1834.7 1454.9 1829.6 1449.8 Z" stroke-width="1.5" fill="none"/>
<path d="M 1559.3 1535.6 L 1571.1 1529.1 L 1573.7 1533 L 1573.7 1538.2 Q 1590.6 1551.3 1594.5 1565.6 Q 1595.8 1579.9 1578.9 1581.2 L 1562 1581.2 L 1558.8 1578.6 Z" stroke-width="2" fill="#fff"/>
<ellipse cx="1567.2" cy="1556.5" rx="7.8" ry="13" stroke-width="2" fill="none" transform="rotate(-10 1567.2 1556.5)"/>
<path d="M 1573.7 1538.2 Q 1588 1556.5 1585.4 1572.1 L 1576.3 1576" stroke-width="1.8" fill="none"/>
<path d="M 1563.3 1572.1 L 1580.2 1569.5 L 1584.1 1577.3" stroke-width="1.6" fill="none"/>
<path d="M 1628 1756.3 L 1701.7 1715.5 Q 1707.4 1715.5 1709.7 1723.4 L 1709.7 1766.5 Q 1708.5 1771.1 1705.1 1773.3 L 1637.1 1814.1 Q 1630.3 1815.3 1628 1809.6 Z" stroke-width="1.6" fill="none"/>
<path d="M1631.4 1766.5 L1706.3 1724.6" stroke-width="1.6" fill="none"/>
<path d="M1629.2 1758.6 L1704 1717.8" stroke-width="1.2" fill="none"/>
<path d="M1632.1 1766.5 L1632.1 1813" stroke-width="1.2" fill="none"/>
<ellipse cx="1639.4" cy="1768.8" rx="5" ry="6.3" stroke-width="1.5" fill="none" transform="rotate(20 1639.4 1768.8)"/>
<ellipse cx="1702.4" cy="1732.5" rx="5" ry="6.3" stroke-width="1.5" fill="none" transform="rotate(20 1702.4 1732.5)"/>
<ellipse cx="1670.7" cy="1786.9" rx="5" ry="6.3" stroke-width="1.5" fill="none" transform="rotate(20 1670.7 1786.9)"/>
<ellipse cx="1775.9" cy="1774.5" rx="3.2" ry="5" stroke-width="1.6" fill="none" transform="rotate(30 1775.9 1774.5)"/>
<ellipse cx="1776.6" cy="1773.8" rx="1.4" ry="2.3" stroke-width="1.2" fill="none" transform="rotate(30 1776.6 1773.8)"/>
<path d="M 1817.4 1800.5 L 1824.2 1796.5 L 1833.2 1805.1 L 1832.1 1810.1 L 1824.2 1808.5 Z" stroke-width="1.6" fill="none"/>
<ellipse cx="1829.8" cy="1806.2" rx="3.4" ry="4.5" stroke-width="1.8" fill="none" transform="rotate(30 1829.8 1806.2)"/>
</g>
</svg>
</body></html>
